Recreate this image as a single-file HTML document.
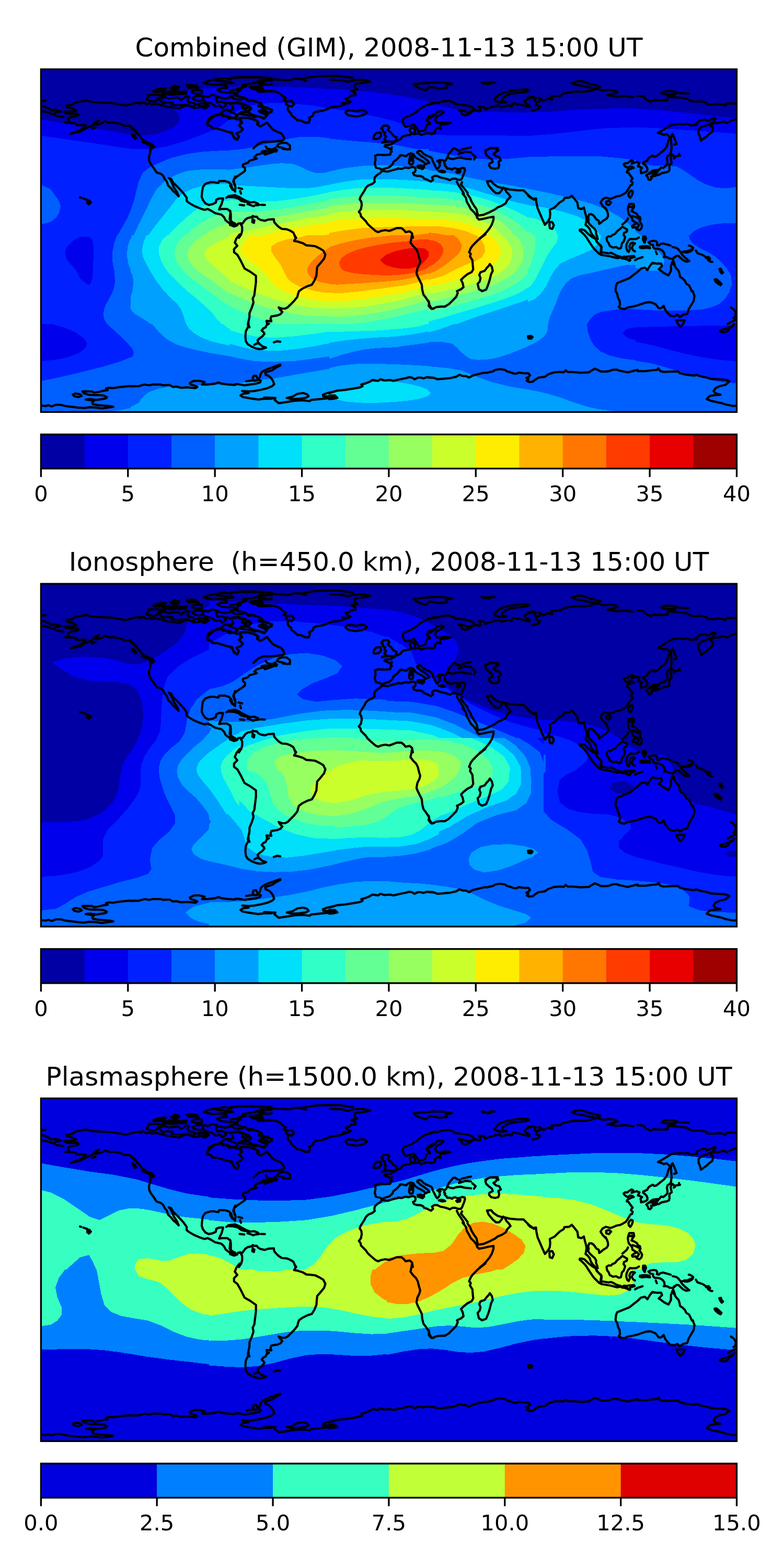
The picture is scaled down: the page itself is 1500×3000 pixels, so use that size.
<!DOCTYPE html>
<html lang="en">
<head>
<meta charset="utf-8">
<title>TEC maps 2008-11-13 15:00 UT</title>
<style>
html,body{margin:0;padding:0;background:#fff;}
body{width:1500px;height:3000px;overflow:hidden;}
svg{display:block;}
text{font-family:"DejaVu Sans","Liberation Sans",sans-serif;fill:#000;}
.title{font-size:50px;text-anchor:middle;white-space:pre;}
.tick{font-size:41.67px;text-anchor:middle;}
.coast{fill:none;stroke:#000;stroke-width:4.2;stroke-linejoin:round;stroke-linecap:round;}
.frame{fill:none;stroke:#000;stroke-width:3.33;stroke-linejoin:miter;}
.tk{stroke:#000;stroke-width:3.33;}
</style>
</head>
<body>
<svg width="1500" height="3000" viewBox="0 0 1500 3000">
<rect width="1500" height="3000" fill="#fff"/>
<defs>
<clipPath id="mapclip"><rect x="78.4" y="132.5" width="1331.1" height="655.8"/></clipPath>
<g id="coast"><path d="M78.3,193.3 87.6,192.7 M78.3,202 86.4,204.6 94.9,208.5 98.8,211.6 105,209.8 112.8,211.6 116.7,213.2 111.2,214.7 105.8,215 104.3,219.4 98.8,217.8 93.4,215.5 88,213.9 83.3,213.2 78.3,213.9 M107.4,221.7 114.3,222.8 121.3,223.7 M271.2,196.1 260,196.9 251,198.9 240.1,202 227.7,199.5 213.7,197.2 192,196.1 174.9,194.8 165.6,192.2 154.7,193.8 143.9,196.1 137.6,200.7 126.8,201.5 128.3,204.6 137.6,207 146.2,211.6 142.3,213.2 122.1,213.9 126.8,217 137.6,217.8 148.5,217.5 150.1,220.9 143.9,222.8 136.1,223.7 129.9,227.1 130.7,231 133,234.1 124.4,234.9 133,235.2 143.9,235.7 147,239.6 153.2,239.3 164,239.6 160.9,244.2 151.6,249.7 134.5,255.9 153.2,252 167.1,244.2 175.7,241.1 182.7,233.4 188.9,230.6 183.4,235.7 178,238 184.2,238.8 196.6,234.9 200.5,231.8 209.1,234.9 218.4,234.9 227.7,236.1 237,240.3 248.7,241.1 254.1,245.8 260,250.4 M175.7,246.1 182.7,244.2 M252.5,256.6 256,261.3 260,264.4 M269,198.4 274,195.4 280.1,199.5 285.1,197.4 290.2,200 298.3,198.4 310.4,201.5 320.5,204.5 330.6,205.5 342.7,207.5 350.7,203.5 358.8,201.5 366.9,204.5 370.9,206.5 381,205.5 387.1,204.5 392.1,207.5 400,202.5 M280.1,190.4 285.1,183.3 283.1,181.3 298.3,181.3 315.4,182.3 310.4,185.3 303.3,187.3 299.3,192.4 292.2,194.4 285.1,192.4Z M303.3,188.4 315.4,185.3 322.5,188.4 330.6,187.3 340.7,186.3 346.7,191.4 350.7,188.4 355.8,184.3 361.8,185.3 358.8,190.4 360.8,195.4 370.9,197.4 375,199.5 368.9,203.5 356.8,200.5 340.7,201.5 328.5,200.5 330.6,196.4 318.4,195.4 312.4,197.4 307.3,193.4Z M366.9,174.2 376,172.2 386.1,173.2 386.1,179.3 375,179.3 366.9,177.3Z M367.9,187.3 376,183.3 388.1,184.3 389.1,190.4 381,193.4 370.9,190.4Z M378,199.5 386.1,197.4 396.2,200.5 391.1,203.5 381,202.5 M409.2,152.3 420.3,150.7 430.4,149.2 441.5,151.7 446.5,148.4 460.7,147.4 475.8,147 490.9,147.4 506.1,148.4 520,149.7 M409.2,152.3 396.1,155.3 390,158.3 396.1,160.3 405.1,162.3 423.3,161.3 435.4,159.3 446.5,158.3 438.4,156.3 428.4,155.3 417.3,154.8 409.2,152.3 M520,154.3 509.1,154.3 499,152.8 490.9,157.3 480.8,159.8 463.7,162.3 470.7,165.4 460.7,167.9 452.6,170.4 460.7,172.9 454.6,175.5 454.6,179.5 446.5,177.5 435.4,177.5 423.3,176 415.2,171.4 425.3,168.4 434.4,168.4 433.4,164.4 423.3,161.8 M520,161.3 509.1,162.3 496,160.3 501,165.4 477.8,166.9 484.9,170.9 503,169.4 490.9,172.4 495,175.5 520,175 M413.2,189.6 417.3,185.6 430.4,188.6 442.5,185.6 448.5,189.6 460.7,190.6 468.7,187.6 475.8,193.6 482.9,192.6 495,195.7 501,199.7 494,202.7 504.1,204.7 511.1,205.7 520,210.8 M413.2,189.6 416.2,195.7 423.3,194.6 430.4,196.7 440.5,197.7 455.6,195.7 464.7,198.7 476.8,203.7 480.8,207.8 474.8,213.8 468.7,209.8 462.7,205.7 464.7,199.7 M390,183.5 398.1,185.6 405.1,181.5 415.2,183.5 413.2,189.6 M390,193.6 396.1,195.7 404.1,197.7 413.2,203.7 420.3,201.7 425.3,206.8 432.4,201.7 430.4,197.7 M390,207.8 396.1,205.7 399.1,201.7 393,197.7 M396.1,235 400.1,225.9 410.2,220.9 420.3,217.9 427.3,212.8 432.4,209.8 440.5,213.8 450.6,217.9 454.6,221.9 446.5,225.9 438.4,226.9 432.4,221.9 425.3,221.9 M456.6,217.9 462.7,213.8 475.8,214.8 480.8,218.9 490.9,221.9 506.1,225.9 511.1,220.9 501,215.8 495,212.8 501,209.8 509.1,211.8 514.1,215.8 520,213.8 M458.6,225.9 466.7,224.9 475.8,225.9 485.9,229 493,232 495,235 M452.1,226.4 454.6,228 M460.7,235 458.6,226.9 M444.5,203.7 446.5,208.8 440.5,210.8 432.4,209.8 M462.7,204.7 466.7,208.8 472.8,206.8 M250,242.7 256.2,248.9 262.4,255.1 267.1,259.8 271.7,266 281.1,272.2 291.9,276.8 295,281.5 288.8,284.6 287.3,290 M252.3,257.4 257,258.2 260.9,264.4 257.8,265.2Z M271.7,271.4 281.1,275.3 291.9,279.9 M428.6,211.6 420.8,219.4 411.5,220.9 403.7,227.1 397.5,233.4 396.7,239.6 403.7,241.1 406.8,245.8 414.6,245.8 425.5,248.9 434.8,252 444.1,253.5 445.7,259.8 450,264.4 M425.5,219.4 436.3,222.5 450,227.1 M499,154.9 522.3,151.8 553.4,153.4 564.2,150.3 575.1,151.1 595.3,147.2 610.8,145.6 640,145.2 M575.1,151.1 586,154.2 M632.5,152.6 640,152.6 M499,154.9 508.3,161.1 491.2,165 477.3,166.6 485,171.2 502.1,169.7 494.3,173.6 514.5,173.6 527,175.1 534.7,178.2 540.9,183.7 547.1,188.3 542.5,191.4 548.7,194.5 547.1,199.2 551.8,202.3 550.2,208.5 552.6,213.2 556.5,216.3 558,220.9 564.2,225.6 568.9,230.2 576.6,231 584.4,234.9 590.6,234.9 593,228.7 591.4,225.6 598.4,221.7 599.9,216.3 604.6,213.9 618.6,211.6 626.3,208.5 632.5,205.4 640,204.6 M547.1,194.5 558,193 562.7,199.2 558,203.9 551.8,202.3 M440,149.5 455.5,148.3 486.6,148 517.6,148.7 520.7,151.8 502.1,154.9 486.6,158.8 463.3,162.7 471.1,165 455.5,171.2 440,172.8 M497.5,156.5 508.3,161.6 M440,158.8 446.2,158.8 M440,183.7 449.3,182.1 458.6,185.2 468,186.8 475.7,192.2 481.9,191.4 491.2,194.5 499,197.6 502.1,201.5 494.3,203.1 502.1,205.4 509.9,207 520.7,210.1 516.1,215.5 511.4,217.8 508.3,213.2 499,211.6 497.5,214.7 506.8,217.8 509.9,222.5 505.2,227.1 494.3,222.5 486.6,224 478.8,220.9 468,219.4 458.6,217.8 466.4,214.7 475.7,213.2 478.8,208.5 474.2,203.9 466.4,200.7 455.5,196.9 446.2,197.6 440,199.2 M463.3,205.4 469.5,207.7 M450.9,227.1 454,228.7 M458.6,225.6 475.7,225.6 486.6,228.7 492.8,231.8 492,238 498.2,241.9 505.2,238 510.7,234.1 516.1,241.1 522.3,248.1 530.1,252 537.8,255.1 542.5,261.3 544,266.7 539.4,269.1 533.2,269.8 527,270.6 517.6,271.4 503.7,271.4 494.3,275.3 485,283.8 M458.6,225.6 463.3,234.9 457.1,239.6 464.8,247.3 460.2,252 452.4,255.1 457.1,261.3 454,267.5 447.8,264.4 444.7,256.6 440,253.5 M533.2,275.3 540.9,273 548.7,273.7 554.9,278.4 554.9,284.6 548.7,286.1 540.9,283 533.2,281.5 530.1,279.2Z M508.3,279.9 511.4,284.6 520.7,286.1 527,283 528.5,290 M500.6,290 508.3,288.5 M630,144.8 650.2,145.6 675,149.2 M631.6,152.6 653.3,153.4 665.7,156.5 676.6,153.4 692.1,152.6 706.1,154.5 707.6,156.5 692.1,158.8 679.7,160.4 678.1,166.6 683.6,171.2 671.9,173.6 679.7,177.5 680.5,182.1 671.9,182.9 667.3,186.8 661.1,188.3 665.7,193 671.1,194.5 667.3,197.6 654.8,196.9 661.1,199.2 650.2,203.1 639.3,204.6 630,206.2 M661.1,214.7 665.7,210.8 675,211.6 681.2,213.2 689,210.8 696.8,210.8 702.2,215.5 696.8,219.4 689,221.7 681.2,222.8 667.3,220.9 662.6,217.8Z M791.5,161.1 803.9,159.6 816.3,158.8 830,157.3 847.4,158 864.5,160.4 853.6,163.5 855.2,168.1 841.2,169.7 830,167.4 821,166.6 814.8,172.8 805.5,169.7 797.7,166.6Z M831.9,195.8 816.3,200.7 805.5,207 796.1,214.7 785.3,220.9 772.9,225.6 770.5,230.2 772.1,238 776,242.7 783.7,241.1 791.5,238 797.7,245.8 800.8,252 805.5,251.2 813.2,248.9 816.3,239.6 822.5,234.9 816.3,230.2 819.4,224 830,219.4 M783.7,248.9 785.3,245.8 791.5,244.2 794.6,250.4 791.5,256.6 786.8,255.1Z M791.5,256.6 800.8,255.1 805.5,258.2 816.3,255.1 830,255.4 M760.4,269.1 766.6,266 769.8,261.3 777.5,259 785.3,258.2 M729.4,245.8 734,240.3 741.8,240.3 744.9,244.2 741.8,248.9 748,253.5 752.7,259.8 758.9,262.9 757.3,269.1 752.7,271.4 744.9,270.6 737.1,271.4 730.9,273 738.7,269.1 735.6,266 738.7,261.3 735.6,258.2 737.1,253.5 732.5,252 732.5,247.3Z M715.4,259.8 720.1,254.3 727.8,253.5 729.4,259.8 724.7,265.2 718.5,266 714.6,265.2Z M758.9,269.1 752.7,273.7 746.5,276.8 737.1,277.6 735.6,279.9 743.4,283 748,286.1 749.6,290 M921.7,157.7 931.8,158.8 942.7,157.3 947.3,158 M924,159.6 938,160.7 M945.8,190.7 953.5,182.1 961.3,178.2 975.3,174.3 990.8,172 1007.9,171.2 1012.5,173.6 1006.3,175.9 990.8,177.5 975.3,179.8 967.5,183.7 961.3,188.3 959.8,193 969.1,195.3 956.6,196.1 947.3,193Z M820,200.7 829.3,197.6 840.2,196.1 844.8,193.8 858.8,193 868.1,196.1 871.2,199.2 882.1,200 893,201.5 902.3,204.6 907.7,209.3 903.9,213.2 899.2,217 891.4,220.9 883.7,218.6 882.1,213.2 877.5,210.1 885.2,211.6 894.5,214.7 907,211.6 914.7,211.6 917.8,213.2 919.4,208.5 916.3,203.9 925.6,204.6 928.7,209.3 933.4,207 944.2,203.9 955.1,201.5 958.2,204.6 967.5,203.1 975.3,201.5 978.4,203.9 981.5,197.6 990.8,199.2 1000.1,201.5 1011,204.6 1013.3,202.3 1006.3,197.6 1003.2,193.8 1011,188.3 1020,186.8 M1018.4,211.3 1020,211.9 M820,227.1 826.2,224 832.4,219.4 835.5,214.7 843.3,212.4 848.7,214.7 843.3,219.4 835.5,223.3 832.4,228.7 835.5,234.9 840.2,235.7 851.1,234.1 861.9,235.2 851.1,238 843.3,238 841.7,242.7 843.3,246.6 837.1,244.2 832.4,248.9 832.4,253.5 826.2,256.6 820,255.1 M820,235.7 822.8,237.2 M928.7,287.7 938,283.8 952,283.8 953.5,288.5 M1010,186.8 1019.3,185.2 1025.5,188.3 1022.4,192.2 1027.1,196.1 1033.3,193 1031.7,186.8 1039.5,193 1048.8,188.3 1056.6,190.7 1055,184.4 1072.1,183.7 1078.3,179 1090.7,176.7 1103.2,175.1 1115.6,175.9 1131.1,173.6 1142,169.7 1154.4,173.6 1165.3,172 1177.7,173.6 1181.6,176.7 1173,179.8 1162.2,182.1 1173,183.7 1179.3,185.2 1196.3,183.7 1211.9,186 M1093.9,158.8 1103.2,155.7 1112.5,154.9 1121.8,158 1129.6,161.1 1142,163.5 1148.2,165.8 1142,169.7 1131.1,168.1 1124.9,166.6 1115.6,164.3 1103.2,162.7 1093.9,158.8 M1010,173.3 1011.6,173.6 M1010,202.3 1013.1,204.6 M1027.1,196.1 1025.5,200.7 1033.3,203.9 1030.2,208.5 1019.3,211.6 M1220,183.7 1230.9,184.4 1235.5,189.9 1244.8,194.5 1249.5,191.4 1258.8,192.2 1268.1,192.2 1277.5,191.4 1277.5,185.2 1291.4,186 1313.2,188.3 1319.4,192.2 1327.1,194.5 1341.1,193.8 1350.4,196.1 1353.5,200 1364.4,200 1375.3,199.2 1383,200 1387.7,202.3 1390.8,197.6 1410.2,198.4 M1265.8,177.5 1272.8,174.3 1285.2,174.3 1296.1,176.7 1293,179.8 1279,180.6 1269.7,179.8Z M1300.7,178.2 1317.8,179 M1279,182.4 1289.9,183.7 M1275.9,279.9 1279,269.1 1282.1,262.9 1275.9,256.6 1269.7,258.2 1265,255.9 1258.8,254.3 1271.2,247.3 1285.2,238.8 1297.6,237.2 1310.1,238 1314.7,236.5 1320.9,239.6 1333.4,238.8 1331.8,235.7 1339.6,230.2 1348.9,228.7 1353.5,231.8 1359.8,228.7 1366,225.6 1369.1,227.1 1362.9,234.9 1352,239.6 1341.1,243.4 1336.5,248.9 1336.5,255.1 1339.6,262.9 1341.1,269.1 1347.3,264.4 1352,261.3 1356.6,256.6 1362.9,252 1364.4,244.2 1359.8,241.1 1364.4,235.7 1375.3,234.9 1384.6,232.6 1390.8,235.7 1398.6,231 1410.2,227.6 M1286.8,256.6 1289.9,262.9 1294.5,275.3 1289.9,276.8 M1285.2,284.6 1284.4,275.3 1283.7,266 1285.2,258.2 1286.8,256.6 M153.2,377.7 155,378.3 M159.4,379.7 163.3,381 167.1,382.5 M287.3,278.8 287.3,285 287.3,292.8 284.9,300.5 285.7,308.3 288.8,314.5 293.5,320.7 299.7,330 307.5,332.4 312.1,336.2 315.2,342.5 319.1,347.1 321.7,354.9 327.6,360.6 331.1,365.3 337,370.4 341.9,375.5 338.5,367.3 332.3,358 329.2,350.2 326.1,344 323,340.9 327.6,342.5 330.7,348.7 337,354.9 343.2,361.1 350.9,369.6 357.1,378.2 357.1,384.4 361.8,388.3 371.1,393.7 382,398.4 391.3,401.5 397.5,399.9 403.7,403 411.5,407.7 423.9,410.8 428.6,415.4 431.7,421.6 437.9,426.3 444.1,429.4 450,432.5 M450,366.5 444.1,359.5 442.5,353.3 437.9,348.7 430.1,346.3 419.3,346.3 417.7,350.2 409.9,348.7 402.2,348.7 392.9,351.8 388.2,358 386.6,367.3 385.9,376.6 388.2,382.8 392.9,389 399.1,392.1 406.8,390.6 413,387.5 413.8,382 419.3,379.7 427,379.7 423.9,390.6 420.8,396.8 419.3,400.7 425.5,399.9 434.8,399.9 441,404.6 440.2,412.3 439.4,420.1 444.1,424.8 450,427.9 M433.2,378.2 439.4,375.1 450,373.5 M450,337.8 447.2,344 448,350.2 450,354.9 M505.2,291.2 514.5,288.9 528.5,288.1 M540.9,285 554.9,285.8 M530.1,287.3 520.7,291.2 506.8,295.9 505.2,292 491.2,295.9 486.6,300.5 491.2,303.6 477.3,307.5 474.2,311.4 464.8,314.5 464.8,318.4 468.7,321.5 468.7,326.9 464.8,330 455.5,336.2 447.8,342.5 446.2,347.1 448.5,353.3 450.9,359.5 449.3,365 444.7,362.6 440,354.9 M456.3,359.5 463.3,361.4 M459.4,365.7 461,370.4 M473.4,390.6 477.3,387.5 486.6,386.7 492.8,389 495.9,392.1 488.1,392.9 485,394.5 478.8,392.1Z M458.6,391.8 467.2,392.9 M499.8,391.8 506.8,392.1 M440,403 441.6,409.2 441.6,421.6 440,426.3 M440,427.9 446.2,431 450.9,432.5 455.5,427.9 460.2,427.1 463.3,428.6 469.5,420.1 474.2,417 481.9,415.4 483.5,413.1 486.6,414.7 491.2,414.7 494.3,418.5 499,420.9 506.8,422.4 513,420.1 523.9,419.3 524.6,424.8 528.5,429.4 533.2,434.1 539.4,438 548.7,438.7 554.9,441.1 561.1,444.9 564.2,451.1 566.6,455 M483.5,418.5 482.7,424.8 485.8,426.3 486.6,421.6 M460.2,427.9 463.3,434.1 463.3,441.8 461.7,448 457.1,455 M440,430.2 447.8,433.3 454,431 M749.6,281.9 748,289.7 746.5,295.9 735.6,296.6 723.2,295.9 717.7,298.2 718.5,305.2 717,313 719.3,320.7 726.3,322.3 730.9,324.6 737.1,322.3 744.9,319.9 751.1,314.5 752.7,309.8 758.9,305.2 763.5,300.5 766.6,297.4 M730.9,326.9 741.8,328.5 751.1,325.4 762,323 M730.9,326.9 727.8,330.8 721.6,334.7 717,339.3 716.2,344.8 717,347.9 712.3,351.8 704.5,354.9 699.9,359.5 696.8,365.7 693.7,370.4 689.8,376.6 688.2,381.3 691.3,385.9 692.1,392.1 690.6,399.9 686.7,405.3 689.8,409.2 690.6,413.9 695.2,418.5 699.9,423.2 703,427.9 707.6,432.5 713.9,438 718.5,441.8 723.2,444.2 729.4,441.8 737.1,440.3 744.9,441.8 751.1,439.5 758.9,436.4 768.2,436.4 772.9,440.3 776,444.2 783.7,442.6 788.4,446.5 789.9,455 M907,305.2 910.1,300.5 903.9,295.1 M885.2,370.4 891.4,378.2 893,385.9 897.6,393.7 900.7,399.9 907,406.1 911.6,412.3 913.2,417 916.3,420.1 M894.5,372 899.2,378.2 902.3,385.9 907,393.7 911.6,399.9 913.2,407.7 914.7,412.3 M914.7,412.3 925.6,410.8 936.5,406.1 947.3,400.7 952,396.8 959.8,393.7 967.5,389 970.6,382.8 976.8,376.6 973.7,372 969.1,367.3 966,361.1 962.9,358.8 959.8,364.2 955.1,369.6 948.9,369.6 942.7,364.2 934.9,354.9 931.8,347.1 939.6,346.3 944.2,351.8 952,357.2 959.8,359.5 966,360.3 975.3,362.6 990.8,364.2 1001.7,364.2 1006.3,368.9 1012.5,375.1 1021.9,382 M941.9,363.4 944.2,365.7 M916.3,420.1 925.6,418.5 934.9,416.2 944.2,414.7 944.2,420.1 941.1,429.4 936.5,437.2 930.2,444.9 924,451.1 917.8,455.8 M928.7,291.2 931.8,286.6 938,283.4 952,283.4 948.9,291.2 944.2,294.3 948.9,299 955.1,300.5 958.2,306.7 953.5,309.8 955.1,316.1 953.5,321.5 947.3,323 939.6,321.5 935.7,316.8 936.5,313 942.7,309.8 941.1,305.2 934.9,300.5 930.2,295.9Z M1010,373.5 1014.7,378.2 1019.3,380.5 1025.5,379.7 1026.3,387.5 1028.6,398.4 1033.3,409.2 1038,420.1 1042.6,430.2 1048.8,423.2 1051.9,417 1052.7,409.2 1051.9,401.5 1061.2,396.8 1070.6,387.5 1078.3,382.8 1079.9,378.9 1089.2,378.2 1093.9,374.3 1098.5,379.7 1104.7,387.5 1106.3,398.4 1112.5,399.9 1117.1,396.8 M1051.9,424.8 1056.6,424.8 1059.7,431 1056.6,438 1051.9,436.4 1051.1,429.4Z M1159.1,399.9 1152.9,393.7 1149,387.5 1152.9,381.3 1159.1,378.2 1165.3,379.7 M1159.8,385.9 1165.3,384.4 1169.2,387.5 1165.3,392.1 1159.8,390.6Z M1299.2,294.3 1299.2,298.2 M458.6,448.4 452.4,456.2 449.3,464 454,470.2 447.8,476.4 447.8,482.6 454,487.3 460.2,498.1 466.4,510.6 468,513.7 478.8,519.9 489.7,527.6 489.7,540.1 488.1,552.5 486.6,564.9 483.5,571.1 485,578.9 481.9,588.2 477.3,599.1 477.3,606.8 474.2,620.8 M562.7,448.4 565.8,456.2 562.7,460.9 570.4,462.4 579.8,465.5 586,469.4 595.3,470.2 603,471 610.8,474.8 618.6,479.5 622.5,487.3 620.1,495 612.4,504.3 606.9,510.6 606.1,518.3 605.4,527.6 601.5,537 596.8,544.7 587.5,547.8 578.2,552.5 572,557.1 570.4,561.8 568.9,568 562.7,575.8 556.5,582 550.2,588.2 545.6,590.5 539.4,590.5 533.2,588.2 536.3,592.9 540.2,596.7 536.3,601.4 530.1,603.7 519.2,605.3 517.6,609.9 519.2,614.6 509.9,613.8 511.4,620.8 M788.4,448.4 786.8,457.8 785.3,464 789.9,470.2 796.1,476.4 799.3,482.6 801.6,491.9 803.9,499.7 802.4,505.9 798.5,513.7 796.9,523 799.3,529.2 802.4,535.4 807,544.7 807.8,554 810.1,563.4 814.8,569.6 821,578.9 820.2,585.1 824.1,589.8 830,590.5 M820,575.8 821.6,583.5 826.2,591.3 835.5,587.4 843.3,586.6 851.1,586.6 858.8,582 866.6,574.2 872.8,568 875.9,560.2 874.3,557.1 882.1,553.3 886.8,549.4 885.2,541.6 882.1,535.4 886.8,530.7 894.5,524.5 902.3,520.7 905.4,515.2 904.6,507.5 903.9,498.1 899.2,490.4 900.7,485.7 897.6,482.6 900.7,474.8 903.9,470.2 908.5,465.5 914.7,459.3 922.5,453.1 928.7,448.4 M937.2,505.1 941.1,510.6 942.7,518.3 939.6,524.5 936.5,537 933.4,546.3 930.2,554 922.5,557.1 916.3,553.3 913.9,543.2 917.8,538.5 919.4,532.3 917,526.1 919.4,520.7 927.1,518.3 931.8,512.1 934.9,509Z M1185.5,492.7 1187,491.1 M1190.1,492.7 1197.9,491.9 M1199.4,495 1205.7,498.1 M1219.9,519.9 1210,527.6 1204.1,532.3 1196.3,535.4 1188.6,538.5 1180.8,541.6 1178.5,547.8 1177.7,557.1 1180.8,561.8 1182.4,569.6 1185.5,575.8 1186.2,583.5 1183.9,587.4 1188.6,590.5 1194.8,591.3 1201,588.2 1211.9,586.3 1219.9,584.3 M1220,495 1229.3,491.9 M1289.9,491.9 1288.3,495 1282.1,495 1275.9,491.9 1269.7,491.9 M1220,519.9 1226.2,513.7 1234,512.1 1238.6,516.8 1243.3,509 1248,502.8 1255.7,504.3 1265,504.3 1266.6,509 1260.4,515.2 1265,518.3 1271.2,523 1279,526.9 1283.7,518.3 1283.7,509 1286.8,500.5 1289.9,507.5 M1325.6,557.1 1328.7,566.5 1327.1,575.8 1322.5,583.5 1317.8,591.3 1314.7,600.6 1307,602.2 1300.7,606.8 1296.1,602.2 1289.9,605.3 1282.1,603.7 1277.5,599.1 1272.8,592.9 1269.7,585.1 1265,589.8 1260.4,589.8 1254.2,582 1244.8,578.1 1235.5,578.9 1226.2,582 1220,584.3 M1294.1,613 1310.1,613 1307,620 1302,625 1297,620Z M1398.6,588.2 1404.8,592.9 1407.9,599.1 1406.3,606.8 1403.2,608.4 M1407.9,611.5 1398.6,616.1 1392.4,620 M75.5,776.1 80.2,776.1 88,776.8 92.6,775.3 98.8,777.6 106.6,774.5 115.9,774.5 125.2,776.8 137.6,778.4 150.1,779.9 160.9,780.7 171.8,779.2 184.2,779.9 195.1,781.5 206,779.9 216.8,778.4 209.1,776.8 199.8,776.1 188.9,775.3 178,773.7 176.5,770.6 179.6,767.5 174.9,766 164,764.4 171.8,763.6 184.2,765.2 195.1,763.6 202.9,762.1 204.4,759.8 198.2,756.6 187.3,755.9 176.5,755.9 168.7,755.1 160.9,752.8 157.8,748.9 165.6,748.9 176.5,748.9 179.6,751.2 188.9,749.7 199.8,747.3 206,746.6 202.9,743.4 209.1,741.9 215.3,742.7 230.8,740.3 246.3,738.8 260,738.8 M139.2,755.1 143.9,752.8 153.2,754.3 156.3,757.4 150.1,759.8 142.3,758.2Z M250,739.3 265.5,738.8 276.4,735.7 285.7,737.2 291.9,735.7 307.5,735.7 312.1,737.2 324.5,736.5 330.7,740.3 337,739.6 346.3,741.9 358.7,741.1 374.2,742.7 377.3,740.3 372.7,738 364.9,735.7 363.4,732.6 371.1,728.7 382,728.7 391.3,731 386.6,735.7 397.5,735.7 411.5,734.1 417.7,731.8 423.9,734.1 436.3,735.7 450,736.5 M475.7,618.4 474.2,626.2 470.3,634 469.5,643.3 470.3,652.6 474.2,658.8 481.9,663.5 489.7,666.6 497.5,668.1 505.2,666.6 509.1,665 502.1,662.7 497.5,658.8 494.3,655.7 492.8,651.1 495.9,648 502.1,643.3 506,638.6 503.7,634.8 500.6,632.4 503.7,628.5 508.3,626.2 509.9,622.3 514.5,619.2 M486.6,659.6 492.8,656.5 497.5,658.8 M474.9,620 477.3,626.2 M523.9,654.9 530.1,652.9 536.3,653.9 M536.3,697.6 527,700.7 517.6,703.9 509.9,707 502.1,710.8 499,714.7 497.5,720.9 494.3,725.6 499,728.7 497.5,731.8 489.7,734.1 478.8,735.7 468,737.2 460.2,735.7 452.4,734.9 446.2,736.5 440,735.7 M536.3,699.2 528.5,703.1 520.7,708.5 513,710.8 507.5,713.2 508.3,717 514.5,719.4 519.2,724 522.3,728.7 524.6,734.9 520.7,738.8 511.4,742.7 499,745.8 486.6,748.1 474.2,748.9 463.3,748.1 475.7,752 464.8,753.5 460.2,756.6 464.8,759.8 478.8,762.1 494.3,764.4 505.2,762.9 517.6,762.9 527,761.3 525.4,765.2 533.2,771.4 548.7,769.1 564.2,766.7 579.8,766 592.2,767.5 595.3,765.2 610.8,763.6 626.3,762.1 640,760.5 M485,719.4 489.7,718.6 494.3,727.1 486.6,728.7 483.5,724Z M471.1,729.5 483.5,727.9 M505.2,760.5 523.9,761.3 M548.7,761.3 559.6,759 568.9,753.5 579.8,752 587.5,754.3 590.6,758.2 584.4,761.3 572,762.9 558,763.6Z M640,748.9 626.3,752 617.8,755.1 618.6,758.2 640,759 M630,752 637.8,749.7 645.5,747.3 661.1,745.8 676.6,743.4 689,741.1 693.7,738.8 691.3,735.7 699.9,733.4 707.6,730.2 712.3,727.1 718.5,727.9 723.2,728.7 727.8,725.6 735.6,727.9 746.5,727.1 752.7,728.7 762,726.4 777.5,723.3 782.2,721.7 788.4,722.5 793,725.6 799.3,722.5 805.5,722.5 810.1,724 816.3,721.7 830,722.5 M630,756.6 640.9,756.6 645.5,761.3 637.8,762.9 630,763.6 M820,722.5 829.3,722.8 837.1,725.6 851.1,724.3 861.9,723.3 872.8,720.9 879,717 885.2,719.4 891.4,719.4 897.6,722.5 903.9,718.6 913.2,716.3 925.6,713.2 931.8,713.2 938,711.6 942.7,710.8 947.3,707.7 956.6,706.2 966,707.7 970.6,710.8 976.8,712.4 983,714.7 987.7,715 992.4,712.9 1000.1,713.9 1011,714.4 1014.1,717.8 1011.8,720.9 1007.1,723.3 1011,725.6 1007.9,728.7 1012.5,731 1020,730.2 M1019.3,730.2 1024,726.4 1030.2,722.5 1042.6,720.9 1048.8,716.3 1059.7,712.4 1072.1,711.6 1078.3,712.4 1082.2,708.5 1086.1,711.6 1097,711.9 1110.9,713.2 1126.5,712.4 1132.7,708.5 1138.1,705.4 1143.5,707.7 1149.8,710.8 1159.1,710.8 1165.3,710.1 1171.5,707.7 1179.3,707 1185.5,709.3 1193.2,710.8 1201,712.4 1210,710.1 1219.9,707.7 M1220,710.1 1235.5,710.1 1246.4,708.5 1257.3,707.7 1259.6,704.6 1263.5,710.1 1269.7,711.6 1285.2,710.8 1297.6,710.8 1300.7,713.9 1310.1,716.3 1320.9,717.8 1328.7,718.6 1331.8,717 1341.1,720.2 1350.4,721.7 1359.8,724.8 1372.2,725.6 1384.6,726.4 1392.4,727.9 1395.5,730.2 1387.7,736.5 1376.8,738.8 1369.1,742.7 1365.2,748.1 1369.1,752.8 1378.4,755.1 1369.1,755.9 1358.2,757.4 1352,763.6 1359.8,766.7 1370.6,769.1 1381.5,771.4 1387.7,773.7 1395.5,775.3 1401.7,776.8 1410.2,776.1 M1404.8,620 1398.6,624.7 1390.8,628.5 1381.5,630.9 1376.8,633.2 1381.5,635.5 1387.7,635.5 1392.4,633.2 1395.5,627.8 1401.7,624.7Z M1204.2,390.1 1212.3,390.1 1213.3,396.1 1210.3,400.2 1208.3,404.2 1213.3,406.2 1218.4,409.3 1220.4,413.3 1224.4,415.3 1225.4,420.4 1223.4,423.4 1226.4,427.4 1228.4,431.5 1227.4,436.5 1223.4,440.6 1218.4,438.5 1216.3,434.5 1210.3,435.5 1209.3,432.5 1213.3,429.5 1217.3,427.4 1214.3,424.4 1210.3,422.4 1209.3,417.3 1206.2,413.3 1203.2,410.3 1202.2,406.2 1201.2,400.2 1202.2,395.1Z M1210.3,413.3 1216.3,415.3 1222.4,418.4 M1218.4,426.4 1222.4,430.5 1220.4,434.5 M1205.2,396.1 1209.3,395.1 1210.3,399.2 M1222.4,454.2 1217.3,457.2 1210.3,457.7 1205.2,457.2 1201.7,460.7 1198.7,467.8 1198.2,473.9 1200.2,479.9 1202.7,481.9 1205.2,476.9 1204.2,470.8 1206.7,465.8 1210.3,464.3 1214.8,465.8 1211.3,468.8 1208.8,473.9 1211.3,478.9 1214.8,480.9 M1271.8,491 1270.8,484 1267.8,479.9 1262.8,476.9 1257.7,475.9 1252.7,475.9 1249.6,472.9 1249.6,468.8 1244.6,467.8 1240.6,463.8 1244.6,461.8 1250.7,460.7 1255.7,461.8 1257.7,465.8 1256.7,468.8 1260.7,469.8 1263.8,466.8 1268.8,465.8 1275.9,467.8 1283,469.8 M1254.7,480.9 1256.7,486 M1168,380.4 1170,379.9 1175,377.9 1180.1,375.8 1186.1,374.8 1192.2,371.8 1197.3,368.8 1200.3,364.7 1203.3,359.7 1206.3,354.6 1209.4,353.6 1210.4,349.6 1207.3,346.6 1208.4,343.5 1210.4,341.5 1207.3,337.5 1204.3,333.4 1202.3,330.4 1199.3,329.4 1200.3,326.4 1204.3,324.4 1208.4,322.3 1212.4,321.3 1210.4,319.3 1205.3,318.3 1201.3,321.3 1197.3,319.3 1194.2,316.3 1193.2,314.3 1196.2,312.3 1200.3,312.3 1204.3,309.2 1208.4,306.7 1211.4,308.2 1208.4,313.3 1213.4,311.2 1218.4,310.2 1223.5,312.3 1221.5,316.3 1220.5,318.3 1224.5,319.3 1228.5,321.3 1225.5,324.4 1226.5,328.4 1226.5,331.4 1230.6,330.4 1235.6,328.9 1238.6,326.4 1238.6,322.3 1236.6,318.3 1233.6,315.3 1230.6,313.3 1230.6,310.7 1234.6,309.2 1238.6,307.2 1239.6,304.2 1242.7,301.1 1248.7,297.6 1251.8,300.1 1255.8,299.1 1260.8,295.1 1265.9,291.1 1270.9,287 1274,283 M1236.6,335.5 1240.7,332.4 1244.7,329.4 1248.7,326.4 1255.8,325.4 1260.8,325.4 1264.9,320.3 1268.9,321.3 1273,318.3 1277,314.3 1277,309.2 1276,304.2 1277,299.1 1280,297.1 1283,295.1 1284.1,290 1284.6,283 M1236.6,335.5 1239.6,339.5 1240.7,343.5 1243.7,344.5 1246.7,341.5 1245.7,337.5 1250.7,337.5 1255.8,335.5 1260.8,334.5 1265.9,331.4 1270.9,330.4 1276,329.4 1280,327.4 1281,323.4 1280.5,318.3 1282,314.3 1285.1,312.3 1284.1,307.2 1283,302.2 1285.1,298.1 1285.1,295.1 1289.1,298.1 1291.1,302.2 1289.1,303.2 1293.1,299.1 1301.2,297.9 M1242.7,332.4 1250.7,329.4 1258.8,328.4 M1248.7,333.4 1256.8,332.4 M1207.3,364.7 1210.4,365.7 1210.4,369.8 1208.4,374.8 1205.8,378.4 1203.3,375.8 1202.3,371.8 1204.3,367.8Z M1117.3,398 1119.3,406.1 1121.3,413.1 1122.3,419.2 1121.3,425.2 1120.3,430.3 1124.3,433.3 1128.4,438.4 1130.4,444.4 1133.4,449.5 1137.4,453.5 1140.5,457.5 1141.5,461.6 1144.5,465.6 1148.5,469.6 1150.6,472.7 1149.5,478.7 1149,483.8 M1127.3,410.1 1125.3,415.1 1126.3,420.2 1125.3,425.2 1128.4,429.3 1132.4,433.3 1137.4,437.3 1140.5,442.4 1140.5,447.4 1142.5,452.5 1143.5,457.5 M1127.3,410.1 1131.4,409.6 1135.4,412.1 1138.4,416.1 1141.5,420.2 1145.5,422.2 1146.5,428.3 1150.6,425.2 1155.6,421.2 1160.7,418.2 1163.2,414.1 1163.2,409.1 1161.7,404 1158.6,398 M1109.2,439.4 1113.2,438.9 1118.3,440.4 1122.3,444.4 1126.3,448.4 1130.4,451.5 1134.4,454.5 1139.5,457.5 1141.5,462.6 1145.5,466.6 1149.5,469.6 1151.1,472.7 1150.6,478.7 1149.5,483.8 1146.5,485.8 1142.5,481.8 1137.4,476.7 1133.4,471.7 1129.4,465.6 1125.3,459.5 1122.3,454.5 1118.3,449.5 1113.2,444.4 1109.2,441.4Z M1147.5,485.8 1152.6,482.8 1158.6,483.8 1164.7,484.8 1168.7,483.8 1173.8,485.8 1178.8,488.8 1184.9,490.8 1186.9,492.9 1180.8,493.9 1174.8,492.4 1168.7,490.8 1162.7,489.8 1156.6,488.8 1150.6,487.8Z M1189.9,492.9 1194,490.8 1199,491.3 1205.1,490.3 1213.1,489.8 1214.1,491.8 1206.1,493.9 1204.1,498.9 1200,496.9 1195,494.9 1189.9,494.4Z M1215.2,497.9 1220,494.9 M1160.7,454.5 1164.7,452 1168.7,452.5 1171.8,449.5 1176.8,447.4 1180.8,442.4 1185.9,438.4 1190.9,433.8 1195,436.3 1200,439.4 1199,443.4 1194,445.4 1193,449.5 1196,453.5 1195,457.5 1193,462.6 1189.9,465.6 1188.9,470.7 1187.9,474.7 1183.9,475.7 1178.8,472.7 1172.8,473.7 1166.7,470.7 1164.7,465.6 1161.7,461.6 1160.7,457.5Z M1190.9,429.3 1196,425.2 1200,421.2 1201.5,417.7 M765,297.5 768,296.8 770,297.3 777.1,298.9 781.1,295.3 786.1,293.3 791.2,295.3 794.2,300.4 800.3,304.4 806.3,307.4 811.4,310.5 813.4,314.5 810.4,317.5 M785.1,298.4 789.2,298.9 790.2,303.4 790.7,309.5 789.2,314.5 785.1,315 782.6,311.5 783.1,305.4 784.1,301.4Z M813.4,314.5 817.4,312.5 821.5,311.5 818.4,307.4 814.4,304.4 810.4,301.4 805.3,298.4 801.3,294.3 798.3,292.3 798.3,290.3 802.3,288.3 806.3,289.8 810.4,294.3 815.4,297.3 820.5,299.4 825,301.4 827,304.4 828,308.4 830.6,313.5 832.6,317.5 834.6,321.6 836.6,323.6 839.6,320.6 841.7,316.5 840.7,312.5 842.7,310.5 838.6,309.5 836.6,308.4 840.7,306.4 846.7,306.4 850.7,308.4 849.7,312.5 851.8,314.5 850.7,316.5 853.8,319.5 855.8,322.6 860.8,322.6 864.9,324.6 866.9,322.6 870.9,321.6 875,323.6 881,322.6 884.1,321.1 889.1,322.1 889.6,325.6 888.1,330.7 886.1,335.7 884.1,340.7 882,343.8 M850.7,308.4 853.8,305.4 855.8,301.4 858.8,294.3 862.9,289.3 866.9,284.7 870.9,284.2 875,287.3 879,288.3 881,291.3 878,294.3 882,293.3 891.1,290.3 901.2,291.5 M883,286.2 891.1,284.2 901.2,282 M855.8,301.4 860.8,303.4 866.9,304.4 873,302.4 881,301.4 889.1,303.4 901.2,304.6 M760.9,322.1 768,323.1 770,322.6 776.1,320.6 782.1,321.6 788.2,319.5 794.2,320.6 795.2,324.6 794.2,328.6 790.2,330.7 792.2,334.7 798.3,336.7 804.3,336.7 809.4,338.7 811.4,341.8 817.4,343.8 824.5,347.3 828.5,343.8 826.5,339.7 830.6,336.7 836.6,336.7 842.7,339.7 848.7,340.7 855.8,342.8 860.8,344.8 865.9,341.8 870.9,341.8 876,343.8 882,343.8 M874,347.8 877,353.9 881,359.9 885.1,366 887.6,371 M884.1,348.8 882,352.9 885.1,356.9 890.1,363 894.7,369 M1287,472.8 1290,473.3 1294,474.3 1298.1,477.3 1301.1,481.4 1305.1,482.9 1309.2,480.9 1314.2,480.9 1319.3,478.9 1323.3,477.3 1326.3,474.8 1324.3,472.3 1320.3,470.3 1317.8,469.8 M1310.2,482.9 1316.2,482.9 1321.3,480.9 1325.3,477.8 M1287,495 1290,493.5 1294,489.5 1298.1,489.5 1302.1,493.5 1307.2,498 1313.2,500.6 1318.8,499.5 1315.2,496.5 1310.2,492.5 1306.1,488.4 1303.1,484.4 M1331.4,479.4 1334.4,484.4 1340.5,486.4 1345.5,488.4 1351.6,492.5 1355.6,491.5 1358.6,495.5 1354.6,497.5 1359.6,500.6 1362.7,501.1 M1350.6,493.5 1355.6,495 M1288,498.5 1290,503.6 1292,510.7 1295,514.7 1298.1,517.7 1300.1,523.8 1301.1,529.8 1306.1,532.9 1310.2,536.9 1313.2,543 1318.3,546 1320.8,551 1323.8,557.6"/><path style="fill:#000" d="M293.2,174.2 303.3,170.2 317.4,169.2 312.4,175.2 295.2,176.2Z M311.4,177.3 322.5,175.2 335.6,174.2 346.7,176.2 356.8,175.2 355.8,179.3 340.7,180.3 326.5,181.3 313.4,179.3Z M326.5,168.2 334.6,164.1 342.7,166.1 340.7,170.2 330.6,170.2Z M356.8,163.1 366.9,162.6 376,164.1 380,168.2 360.8,167.7Z M167.1,384.7 171,383.9 173.8,387.5 170.2,391.1 167.1,388.7Z M436.9,375.1 449.3,373.5 457.1,376.6 463.3,380.5 471.1,384.4 477.3,386.7 468,385.9 461.7,384.4 455.5,379.7 447.8,377.4 436.9,376.9Z M1010.2,643.3 1015.7,642.5 1018.8,644.8 1016.4,648 1011,647.6Z M1230.5,452.7 1234.5,452.7 1236,456.7 1234.5,460.7 1233.5,464.8 1231.5,461.8 1230,457.7Z M1224.4,471.8 1230.5,470.8 1236.5,470.8 1242.6,471.8 1243.6,474.9 1236.5,473.9 1228.4,474.9 1224.4,473.9Z M798.8,317.5 804.3,316.5 810.4,317.5 811.4,320.6 808.4,323.6 803.3,321.6 799.3,320.6Z M785.1,300.4 788.7,300.4 789.2,306.4 786.1,307.4 784.6,304.4Z M839.6,327.6 844.7,326.6 849.7,327.6 851.8,329.1 845.7,329.6Z M873,328.6 877,326.6 881,326.6 880,329.6 875,330.7Z M1376.3,514.7 1379.3,514.2 1380.8,518.7 1383.4,521.2 1380.8,523.3 1378.3,519.7Z M1367.2,534.9 1370.7,534.4 1375.8,538.4 1380.3,543 1378.8,545.5 1373.8,543 1368.7,538.4Z"/></g>
</defs>
<g transform="translate(0,0)">
<text class="title" x="744" y="107.5">Combined (GIM), 2008-11-13 15:00 UT</text>
<g clip-path="url(#mapclip)">
<g shape-rendering="crispEdges">
<rect x="0" y="0" width="1500" height="900" fill="#0000a4"/>
<svg x="60" y="120" width="200" height="170" viewBox="60 120 200 170">
<rect x="59" y="119" width="203" height="173" fill="#0000a4"/>
<path fill="#0000ed" d="M75.5,227.9 79.9,228.7 125.2,236.1 168.7,243.4 215.3,251.5 261.9,259.3 261.9,306.3 75.5,306.3Z"/>
<path fill="#0020ff" d="M75.5,259 79.9,259.8 122.1,266 168.7,272.5 215.3,279.6 261.9,286.5 261.9,306.3 75.5,306.3Z"/>
</svg>
<svg x="250" y="120" width="200" height="170" viewBox="250 120 200 170">
<rect x="249" y="119" width="203" height="173" fill="#0000a4"/>
<path fill="#0000ed" d="M451.9,166.6 420.8,167.4 389.8,169.4 360.9,172.6 330.6,178.2 317.4,183.4 315.4,192.4 326.6,200.4 332.6,208.5 340.7,215.7 343.6,225.7 340.7,235.8 330.6,243.9 315.4,250.9 300.3,256 278,258.7 259.9,258.7 248.4,258.2 248.4,306.3 451.9,306.3Z"/>
<path fill="#0020ff" d="M248.4,286.1 259.9,286.5 288.8,285.8 319.9,279.9 350.9,270.9 389.8,256.6 420.8,242.7 436.3,230.6 451.9,219.4 451.9,306.3 248.4,306.3Z"/>
<path fill="#0060ff" d="M411.5,290.8 430.1,288.5 451.9,286.5 451.9,306.3Z"/>
</svg>
<svg x="440" y="120" width="200" height="170" viewBox="440 120 200 170">
<rect x="439" y="119" width="203" height="173" fill="#0000a4"/>
<path fill="#0000ed" d="M438.4,166.6 502.1,165 548.7,166.1 595.3,168.1 641.9,170.8 641.9,306.3 438.4,306.3Z"/>
<path fill="#0020ff" d="M438.4,221.7 455.5,211.6 478.8,202.3 502.1,198.1 525.4,196.9 548.7,197.2 595.3,201.5 641.9,209.6 641.9,306.3 438.4,306.3Z"/>
<path fill="#0060ff" d="M438.4,289.3 486.6,281.5 533.2,268.3 572,262.4 603,261.6 641.9,265.3 641.9,306.3 438.4,306.3Z"/>
</svg>
<svg x="630" y="120" width="200" height="170" viewBox="630 120 200 170">
<rect x="629" y="119" width="203" height="173" fill="#0000a4"/>
<path fill="#0000ed" d="M628.4,169.4 676.6,172.8 723.2,177.5 769.8,183.7 800.8,189.9 831.9,196.4 831.9,306.3 628.4,306.3Z"/>
<path fill="#0020ff" d="M628.4,207.4 661.1,211.6 692.1,217.8 723.2,224 754.2,231.8 769.8,237.2 785.3,242.7 800.8,249.7 820.1,256.6 831.9,257.9 831.9,306.3 628.4,306.3Z"/>
<path fill="#0060ff" d="M628.4,265.2 676.6,269.8 723.2,273.7 754.2,276.8 785.3,283 808.6,287.7 831.9,290.5 831.9,306.3 628.4,306.3Z"/>
</svg>
<svg x="820" y="120" width="200" height="170" viewBox="820 120 200 170">
<rect x="819" y="119" width="203" height="173" fill="#0000a4"/>
<path fill="#0000ed" d="M818.4,196.9 835.5,200.7 851.1,204.6 882.1,210.4 913.2,213.5 944.2,214.3 975.3,215 1021.9,215.8 1021.9,306.3 818.4,306.3Z"/>
<path fill="#0020ff" d="M818.4,257.4 866.6,259 913.2,258.7 959.8,259.3 1021.9,260.5 1021.9,306.3 818.4,306.3Z"/>
<path fill="#0060ff" d="M818.4,287.7 823.1,290.8 818.4,290.8Z"/>
</svg>
<svg x="1010" y="120" width="206" height="170" viewBox="1010 120 206 170">
<rect x="1009" y="119" width="209" height="173" fill="#0000a4"/>
<path fill="#0000ed" d="M1008.4,215.5 1056.6,213.2 1103.2,209.8 1149.8,207.7 1218.1,207 1218.1,306.3 1008.4,306.3Z"/>
<path fill="#0020ff" d="M1008.4,260.2 1056.6,256.6 1103.2,251.2 1149.8,245.8 1218.1,243.4 1218.1,306.3 1008.4,306.3Z"/>
</svg>
<svg x="1216" y="120" width="204" height="170" viewBox="1216 120 204 170">
<rect x="1215" y="119" width="207" height="173" fill="#0000a4"/>
<path fill="#0000ed" d="M1213.8,207.7 1266.6,210.8 1313.2,215.5 1359.8,220.9 1411,226.7 1411,306.3 1213.8,306.3Z"/>
<path fill="#0020ff" d="M1213.8,243.4 1266.6,245.8 1313.2,248.9 1359.8,252 1411,256.2 1411,306.3 1213.8,306.3Z"/>
</svg>
<svg x="60" y="285" width="200" height="170" viewBox="60 285 200 170">
<rect x="59" y="284" width="203" height="173" fill="#0020ff"/>
<path fill="#0060ff" d="M75.5,353.3 80.2,354.1 96.5,361.9 105,373.5 112.8,384.4 115.9,394.5 113.6,406.1 108.1,415.4 98,424 84.8,427.9 75.5,428.6Z"/>
<path fill="#0060ff" d="M221.5,455.8 232.4,437.2 243.2,418.5 251,399.9 257.2,382.8 261.9,373.5 261.9,455.8Z"/>
<path fill="#00a0ff" d="M249.4,455.8 255.7,446.5 261.9,436.4 261.9,455.8Z"/>
<path fill="#0000ed" d="M149.3,455.8 153.2,453.2 168.7,453.2 172.6,455.8Z"/>
</svg>
<svg x="250" y="285" width="200" height="170" viewBox="250 285 200 170">
<rect x="249" y="284" width="203" height="173" fill="#0020ff"/>
<path fill="#0060ff" d="M248.4,407.7 256.2,384.4 260.9,365.7 265.5,347.1 273.3,330 285.7,320.7 301.2,313 327.6,302.1 358.7,294.3 389.8,290.1 420.8,288.4 451.9,288.4 451.9,471.3 248.4,471.3Z"/>
<path fill="#00a0ff" d="M251.6,457.4 264,432.5 276.4,407.7 288.8,381.3 298.1,364.2 310.6,350.2 323,341.7 340.1,333.1 358.7,326.9 389.8,323.8 420.8,323.8 451.9,325.4 451.9,471.3 251.6,471.3Z"/>
<path fill="#00e0fb" d="M278,457.4 296.6,432.5 315.2,409.2 327.6,393.7 337,381.3 350.9,368.9 368,361.1 389.8,354.9 420.8,351.8 451.9,351.8 451.9,471.3 278,471.3Z"/>
<path fill="#30ffc7" d="M315.2,457.4 337,434.1 355.6,417 371.1,404.6 386.6,395.2 405.3,389 428.6,384.4 451.9,382.8 451.9,471.3 315.2,471.3Z"/>
<path fill="#63ff94" d="M347.8,457.4 368,438.7 386.6,424.8 405.3,415.4 428.6,407.7 451.9,404.6 451.9,471.3 347.8,471.3Z"/>
<path fill="#97ff60" d="M380.4,457.4 399.1,443.4 417.7,434.1 436.3,427.9 451.9,424.4 451.9,471.3 380.4,471.3Z"/>
<path fill="#caff2c" d="M423.9,457.4 436.3,451.1 451.9,446 451.9,471.3Z"/>
</svg>
<svg x="440" y="285" width="200" height="170" viewBox="440 285 200 170">
<rect x="439" y="284" width="203" height="173" fill="#0060ff"/>
<path fill="#0020ff" d="M438.4,283.4 460.2,283.4 460.2,286.2 438.4,286.9Z"/>
<path fill="#00a0ff" d="M438.4,324.6 471.1,320.7 502.1,316.1 525.4,313 540.9,312.2 561.1,313.7 576.6,319.9 589.1,326.1 603,330.8 618.6,330.8 641.9,325.8 641.9,471.3 438.4,471.3Z"/>
<path fill="#00e0fb" d="M438.4,353.3 471.1,355.7 502.1,357.2 533.2,358.8 564.2,360.3 587.5,360.3 610.8,357.2 641.9,351.5 641.9,471.3 438.4,471.3Z"/>
<path fill="#30ffc7" d="M438.4,382 471.1,384.4 502.1,385.9 533.2,384.4 564.2,380.5 595.3,375.1 641.9,365.4 641.9,471.3 438.4,471.3Z"/>
<path fill="#63ff94" d="M438.4,404.6 471.1,405.3 502.1,403.8 540.9,399.6 579.8,392.9 610.8,386.7 641.9,379.7 641.9,471.3 438.4,471.3Z"/>
<path fill="#97ff60" d="M438.4,424 471.1,423.2 502.1,419.3 540.9,413.1 579.8,406.1 610.8,400.7 641.9,394.6 641.9,471.3 438.4,471.3Z"/>
<path fill="#caff2c" d="M438.4,446.8 471.1,441.8 502.1,434.8 540.9,427.1 579.8,419.3 610.8,413.9 641.9,408.9 641.9,471.3 438.4,471.3Z"/>
<path fill="#feed00" d="M481.9,455.8 502.1,449.6 540.9,441.1 579.8,433.3 610.8,427.9 641.9,423.7 641.9,471.3 481.9,471.3Z"/>
<path fill="#ffb200" d="M593.7,455.8 618.6,450.4 641.9,446.2 641.9,471.3Z"/>
</svg>
<svg x="630" y="285" width="200" height="170" viewBox="630 285 200 170">
<rect x="629" y="284" width="203" height="173" fill="#0060ff"/>
<path fill="#0020ff" d="M821,283.4 831.9,283.4 831.9,288.9 825.7,286.9Z"/>
<path fill="#00a0ff" d="M628.4,328.2 661.1,321.5 692.1,317.6 723.2,316.1 754.2,316.8 785.3,319.9 831.9,325.7 831.9,471.3 628.4,471.3Z"/>
<path fill="#00e0fb" d="M628.4,353.6 661.1,347.1 692.1,343.2 723.2,342.5 754.2,343.2 785.3,344.8 831.9,349 831.9,471.3 628.4,471.3Z"/>
<path fill="#30ffc7" d="M628.4,367.6 661.1,362.6 692.1,359.5 723.2,358.8 754.2,359.5 785.3,361.1 831.9,364.3 831.9,471.3 628.4,471.3Z"/>
<path fill="#63ff94" d="M628.4,381.6 661.1,377.4 692.1,374.8 723.2,373.8 754.2,374.3 785.3,375.8 831.9,379.1 831.9,471.3 628.4,471.3Z"/>
<path fill="#97ff60" d="M628.4,394.8 661.1,390.6 692.1,388.3 723.2,387.5 754.2,387.8 785.3,389 831.9,392.3 831.9,471.3 628.4,471.3Z"/>
<path fill="#caff2c" d="M628.4,408.8 661.1,404.6 692.1,402.2 723.2,401.5 754.2,401.5 785.3,402.7 831.9,405.5 831.9,471.3 628.4,471.3Z"/>
<path fill="#feed00" d="M628.4,423.5 661.1,420.1 692.1,418.2 723.2,417.3 754.2,417.3 785.3,418.5 831.9,420.2 831.9,471.3 628.4,471.3Z"/>
<path fill="#ffb200" d="M628.4,446 661.1,440.3 692.1,436.4 723.2,434.8 754.2,434.1 785.3,433.3 831.9,432.5 831.9,471.3 628.4,471.3Z"/>
<path fill="#ff7700" d="M755.8,455.8 785.3,451.1 808.6,448 831.9,445.6 831.9,471.3Z"/>
</svg>
<svg x="820" y="285" width="200" height="170" viewBox="820 285 200 170">
<rect x="819" y="284" width="203" height="173" fill="#0020ff"/>
<path fill="#0060ff" d="M818.4,287.8 851.1,294.3 882.1,299.8 913.2,303.6 944.2,305.2 975.3,303.6 1021.9,299.8 1021.9,471.3 818.4,471.3Z"/>
<path fill="#00a0ff" d="M818.4,325.7 843.3,328.5 866.6,332.4 889.9,337.8 913.2,343.2 936.5,347.9 959.8,351.8 983,355.7 1010.1,361.1 1021.9,363 1021.9,471.3 818.4,471.3Z"/>
<path fill="#00e0fb" d="M818.4,348.7 843.3,350.2 866.6,353.3 889.9,358 913.2,365 936.5,372 959.8,378.9 983,385.9 1010.1,392.1 1021.9,394.9 1021.9,471.3 818.4,471.3Z"/>
<path fill="#30ffc7" d="M818.4,364.2 843.3,365 866.6,367.3 889.9,371.2 913.2,376.6 936.5,383.6 959.8,392.1 983,402.2 1006.3,413.9 1021.9,422.4 1021.9,471.3 818.4,471.3Z"/>
<path fill="#63ff94" d="M818.4,378.9 843.3,379.4 866.6,381.3 889.9,384.4 913.2,389.8 936.5,397.6 959.8,407.7 983,421.6 998.6,434.1 1012.5,448 1021.9,456.6 818.4,471.3Z"/>
<path fill="#97ff60" d="M818.4,392.1 843.3,392.5 866.6,394.5 889.9,397.6 913.2,403.8 936.5,412.3 959.8,424.8 975.3,438.7 987.7,455.8 818.4,471.3Z"/>
<path fill="#caff2c" d="M818.4,405.3 843.3,405.8 866.6,407.7 889.9,411.6 913.2,418.5 936.5,429.4 952,441.8 963.6,455.8 818.4,471.3Z"/>
<path fill="#feed00" d="M818.4,420.1 843.3,420.1 866.6,422.4 889.9,427.1 913.2,434.8 928.7,443.4 940.3,455.8 818.4,471.3Z"/>
<path fill="#ffb200" d="M818.4,432.5 843.3,433.3 866.6,436.4 889.9,441.8 905.4,448 917,455.8 818.4,471.3Z"/>
<path fill="#ff7700" d="M818.4,444.9 835.5,446.5 851.1,449.6 872,455.8 818.4,471.3Z"/>
</svg>
<svg x="1010" y="285" width="206" height="170" viewBox="1010 285 206 170">
<rect x="1009" y="284" width="209" height="173" fill="#0020ff"/>
<path fill="#0060ff" d="M1008.4,300.5 1056.6,299.3 1103.2,298.7 1149.8,299.3 1180.8,302.1 1218.1,306.3 1218.1,471.3 1008.4,471.3Z"/>
<path fill="#00a0ff" d="M1008.4,361.1 1041.1,367.3 1072.1,374.3 1103.2,382 1134.2,390.6 1165.3,403 1188.6,417 1204.1,429.4 1218.1,441.8 1218.1,471.3 1008.4,471.3Z"/>
<path fill="#00e0fb" d="M1008.4,392.1 1041.1,396.8 1072.1,403.8 1103.2,413.1 1126.5,424.8 1142,438.7 1150.5,455.8 1008.4,471.3Z"/>
<path fill="#30ffc7" d="M1008.4,415.4 1025.5,418.5 1041.1,424.8 1056.6,434.1 1064.3,443.4 1067.8,455.8 1008.4,471.3Z"/>
<path fill="#63ff94" d="M1008.4,441.8 1017.8,446.5 1022.7,455.8 1008.4,471.3Z"/>
</svg>
<svg x="1216" y="285" width="204" height="170" viewBox="1216 285 204 170">
<rect x="1215" y="284" width="207" height="173" fill="#0060ff"/>
<path fill="#0020ff" d="M1213.8,307.5 1235.5,314.5 1251.1,316.8 1274.3,316.8 1294.5,318.4 1307,325.4 1320.9,334.7 1336.5,345.6 1352,353.3 1369.1,358.8 1387.7,360.3 1411,357.7 1411,283.4 1213.8,283.4Z"/>
<path fill="#0020ff" d="M1315.5,455.8 1325.6,443.4 1341.1,435.6 1359.8,430.2 1383,427.1 1411,426.8 1411,455.8Z"/>
<path fill="#00a0ff" d="M1213.8,441.1 1224.7,449.6 1231.6,455.8 1213.8,455.8Z"/>
</svg>
<svg x="60" y="450" width="200" height="170" viewBox="60 450 200 170">
<rect x="59" y="449" width="203" height="173" fill="#0020ff"/>
<path fill="#0000ed" d="M152.4,453.1 171.8,453.1 177.2,460.9 178.8,470.2 178.8,493.5 178,512.1 177.2,530.7 174.1,540.1 171,545.5 167.1,543.9 153.2,533.1 149.3,524.5 144.6,516 136.1,506.7 128.3,497.4 124.9,487.3 125.2,478 129.9,470.2 139.2,460.9 147,456.2Z"/>
<path fill="#0060ff" d="M224.6,448.4 218.4,465.5 215.3,481.1 215.3,501.2 219.2,521.4 219.9,541.6 216.8,555.6 209.1,571.1 201.3,585.1 197.4,600.6 199.8,611.5 205.2,620.8 261.9,620.8 261.9,448.4Z"/>
<path fill="#00a0ff" d="M252.5,448.4 244.8,470.2 242.5,487.3 245.6,504.3 252.5,523 255.7,538.5 254.9,554 250.2,571.1 249.4,588.2 254.1,595.2 261.9,603 261.9,448.4Z"/>
</svg>
<svg x="250" y="450" width="200" height="170" viewBox="250 450 200 170">
<rect x="249" y="449" width="203" height="173" fill="#00a0ff"/>
<path fill="#0060ff" d="M248.4,448.4 252.5,448.4 250,459.3 248.4,465.5Z"/>
<path fill="#0060ff" d="M248.4,516.8 253.9,527.6 255.6,541.6 253.1,558.7 248.4,572.7Z"/>
<path fill="#0060ff" d="M248.4,589.8 257.8,600.6 268.6,606.8 281.1,614.6 289.6,620.8 248.4,620.8Z"/>
<path fill="#00e0fb" d="M281.1,448.4 274.8,462.4 271.7,478 273.3,491.9 279.5,504.3 287.3,518.3 296.6,533.9 309,550.9 324.5,568 338.5,581.2 346.3,591.3 350.9,603.7 355.9,620.8 451.9,620.8 451.9,448.4Z"/>
<path fill="#30ffc7" d="M321.4,448.4 310.6,459.3 304.3,471.7 303.6,484.2 307.5,496.6 315.2,512.1 326.1,526.1 341.6,541.6 358.7,557.1 374.2,569.6 389.8,583.5 405.3,597.5 414.6,609.9 424.7,620.8 451.9,620.8 451.9,448.4Z"/>
<path fill="#63ff94" d="M354,448.4 341.6,462.4 334.6,474.8 333.9,488.8 338.5,502.8 349.4,516.8 364.9,532.3 382,544.7 399.1,557.1 417.7,571.1 436.3,583.5 451.9,592.5 451.9,448.4Z"/>
<path fill="#97ff60" d="M389.8,448.4 371.1,464 361.8,474.8 358.7,487.3 361.8,499.7 371.1,512.1 386.6,524.5 405.3,537 423.9,550.9 441,563.4 451.9,569.9 451.9,448.4Z"/>
<path fill="#caff2c" d="M445.7,448.4 420.8,460.9 402.2,470.2 392.9,479.5 391.3,488.8 396,498.1 408.4,509 423.9,521.4 439.4,535.4 451.9,544.7 451.9,448.4Z"/>
</svg>
<svg x="440" y="450" width="200" height="170" viewBox="440 450 200 170">
<rect x="439" y="449" width="203" height="173" fill="#caff2c"/>
<path fill="#97ff60" d="M438.4,536.2 455.5,544.7 478.8,555.6 502.1,564.9 525.4,572.7 548.7,578.9 572,584.3 595.3,588.2 618.6,589.8 641.9,589.8 641.9,636.3 438.4,636.3Z"/>
<path fill="#63ff94" d="M438.4,560.2 463.3,571.1 486.6,580.4 509.9,588.2 533.2,594.4 556.5,599.1 579.8,603 603,605.3 641.9,605.3 641.9,636.3 438.4,636.3Z"/>
<path fill="#30ffc7" d="M438.4,585.1 455.5,592.9 478.8,603 502.1,611.5 525.4,617.7 537,620.8 438.4,620.8Z"/>
<path fill="#feed00" d="M481.9,448.4 468,462.4 460.2,474.8 460.2,482.6 468,491.9 480.4,501.2 494.3,512.1 506.8,523 514.5,533.9 523.9,544.7 536.3,554 551.8,561.8 572,568 595.3,572.7 618.6,575.8 641.9,576.6 641.9,448.4Z"/>
<path fill="#ffb200" d="M593.7,448.4 572,454.7 548.7,457.8 530.1,464 519.2,471.7 519.2,481.1 527,493.5 536.3,505.9 542.5,518.3 548.7,530.7 558,540.1 572,547.8 587.5,552.5 603,557.1 618.6,559.5 641.9,560.2 641.9,448.4Z"/>
<path fill="#ff7700" d="M641.9,467.9 626.3,476.4 610.8,487.3 596.8,499.7 589.1,510.6 587.5,518.3 590.6,526.1 598.4,533.9 610.8,539.3 626.3,542.4 641.9,543.2Z"/>
</svg>
<svg x="630" y="450" width="200" height="170" viewBox="630 450 200 170">
<rect x="629" y="449" width="203" height="173" fill="#ff7700"/>
<path fill="#ffb200" d="M628.4,473.3 653.3,465.5 676.6,460.1 707.6,454.7 738.7,451.6 758.9,448.4 628.4,448.4Z"/>
<path fill="#ff3b00" d="M648.6,502.8 653.3,493.5 664.2,485.7 681.2,478.7 699.9,473.3 723.2,468.6 746.5,464.8 769.8,462.4 785.3,460.9 800.8,458.5 816.3,457.8 831.9,459.3 831.9,505.9 816.3,513.7 800.8,519.9 785.3,523 762,526.1 738.7,526.9 715.4,526.1 692.1,524.5 673.5,522.2 658,518.3 651.7,512.1Z"/>
<path fill="#e80000" d="M727,497.4 738.7,487.3 754.2,481.1 769.8,477.2 785.3,474.8 800.8,474.1 813.2,475.6 819.4,481.1 821,488 816.3,496.6 808.6,504.3 797.7,510.6 785.3,513.7 769.8,514.4 754.2,512.1 738.7,507.5 732.5,502.8Z"/>
<path fill="#ffb200" d="M628.4,543.2 645.5,544.7 668.8,543.2 692.1,541.6 715.4,540.1 738.7,538.5 762,536.2 785.3,532.3 808.6,526.1 831.9,518.8 831.9,636.3 628.4,636.3Z"/>
<path fill="#feed00" d="M628.4,560.2 653.3,561 676.6,558.7 707.6,554.8 738.7,550.9 769.8,546.3 793,541.6 816.3,534.6 831.9,529.7 831.9,636.3 628.4,636.3Z"/>
<path fill="#caff2c" d="M628.4,576.6 653.3,576.6 676.6,574.2 707.6,570.3 738.7,565.7 769.8,560.2 800.8,551.7 831.9,541.3 831.9,636.3 628.4,636.3Z"/>
<path fill="#97ff60" d="M628.4,589.8 653.3,590.5 676.6,589 707.6,585.1 738.7,579.7 769.8,573.4 800.8,564.9 831.9,554.3 831.9,636.3 628.4,636.3Z"/>
<path fill="#63ff94" d="M628.4,605.3 653.3,606.1 676.6,604.5 707.6,600.6 738.7,595.2 769.8,588.2 800.8,579.7 831.9,569.3 831.9,636.3 628.4,636.3Z"/>
<path fill="#30ffc7" d="M667.3,620.8 692.1,617.7 723.2,613 754.2,606.8 785.3,599.1 808.6,593.6 831.9,587 831.9,636.3Z"/>
<path fill="#00e0fb" d="M819.4,620.8 831.9,612.3 831.9,620.8Z"/>
</svg>
<svg x="820" y="450" width="200" height="170" viewBox="820 450 200 170">
<rect x="819" y="449" width="203" height="173" fill="#00a0ff"/>
<path fill="#00e0fb" d="M1021.9,568.8 998.6,577.3 975.3,585.1 952,592.9 928.7,600.6 905.4,608.4 882.1,616.9 872.8,620.8 818.4,620.8 818.4,448.4 1021.9,448.4Z"/>
<path fill="#30ffc7" d="M1021.9,540.8 1006.3,552.5 990.8,561.8 967.5,571.1 944.2,578.9 920.9,585.9 897.6,592.9 874.3,599.8 851.1,606.8 827.8,613 818.4,615.4 818.4,448.4 1021.9,448.4Z"/>
<path fill="#63ff94" d="M1011.8,448.4 1018,459.3 1021.1,468.6 1021.1,493.5 1017.2,507.5 1009.4,523 995.5,537 978.4,547.8 959.8,557.1 936.5,565.7 913.2,572.7 889.9,579.7 866.6,585.9 843.3,591.3 818.4,596.7 818.4,448.4Z"/>
<path fill="#97ff60" d="M984.6,448.4 995.5,460.9 1000.9,473.3 1001.7,488.8 998.6,502.8 989.3,516.8 975.3,529.2 956.6,539.3 936.5,547.8 913.2,555.6 889.9,561.8 866.6,568 843.3,573.4 818.4,578.9 818.4,448.4Z"/>
<path fill="#caff2c" d="M958.2,448.4 970.6,460.9 978.4,473.3 980.7,487.3 976.8,501.2 967.5,513.7 953.5,524.5 936.5,532.3 916.3,540.1 894.5,546.3 869.7,552.5 843.3,558.7 818.4,563.4 818.4,448.4Z"/>
<path fill="#feed00" d="M936.5,448.4 948.9,460.9 956.6,473.3 958.2,485.7 953.5,496.6 944.2,507.5 928.7,516.8 913.2,523 894.5,529.2 874.3,535.4 851.1,542.4 827.8,547 818.4,549.1 818.4,448.4Z"/>
<path fill="#ffb200" d="M910.1,448.4 920.9,459.3 927.1,470.2 927.9,481.1 922.5,491.9 910.1,499.7 894.5,505.1 879,512.1 863.5,519.9 848,527.6 832.4,532.3 818.4,536.2 818.4,448.4Z"/>
<path fill="#ff7700" d="M866.6,448.4 877.5,457.8 883.7,468.6 882.1,478 875.9,487.3 865,496.6 851.1,507.5 835.5,517.5 818.4,524.5 818.4,448.4Z"/>
<path fill="#ff3b00" d="M818.4,458.5 832.4,460.9 843.3,467.1 848.7,476.4 847.2,485.7 840.2,496.6 829.3,505.9 818.4,511.3Z"/>
<path fill="#e80000" d="M818.4,484.9 821.6,487.3 818.4,489.6Z"/>
</svg>
<svg x="1010" y="450" width="206" height="170" viewBox="1010 450 206 170">
<rect x="1009" y="449" width="209" height="173" fill="#00a0ff"/>
<path fill="#00e0fb" d="M1150.5,448.4 1148.2,459.3 1143.5,467.1 1131.1,478 1110.9,487.3 1087.6,496.6 1072.1,504.3 1061.2,516.8 1053.5,529.2 1045.7,546.3 1034.8,561.8 1022.4,572.7 1008.4,578.1 1008.4,448.4Z"/>
<path fill="#30ffc7" d="M1068.2,448.4 1065.9,462.4 1056.6,474.8 1047.3,488.8 1039.5,504.3 1031.7,519.9 1024,535.4 1016.2,546.3 1008.4,551.7 1008.4,448.4Z"/>
<path fill="#63ff94" d="M1008.4,448.4 1023.2,448.4 1024.8,462.4 1023.2,478 1019.3,493.5 1014.7,509 1008.4,519.9Z"/>
<path fill="#0060ff" d="M1218.1,506.4 1196.3,507.5 1180.8,510.6 1157.5,516 1134.2,521.4 1110.9,526.1 1093.9,532.3 1083,541.6 1075.2,552.5 1069,564.9 1064.3,578.9 1058.1,592.9 1051.9,606.8 1048.5,620.8 1218.1,620.8Z"/>
<path fill="#0020ff" d="M1218.1,590.5 1196.3,590.5 1180.8,592.1 1165.3,594.4 1149.8,596.7 1137.3,602.2 1129.6,609.9 1123,620.8 1218.1,620.8Z"/>
</svg>
<svg x="1216" y="450" width="204" height="170" viewBox="1216 450 204 170">
<rect x="1215" y="449" width="207" height="173" fill="#0020ff"/>
<path fill="#0060ff" d="M1213.8,448.4 1317.8,448.4 1319.4,457.8 1325.6,465.5 1336.5,473.3 1352,481.1 1367.5,490.4 1379.9,501.2 1390.8,513.7 1398.6,527.6 1400.1,543.2 1395.5,558.7 1387.7,571.1 1375.3,582 1359.8,588.2 1344.2,592.1 1320.9,593.6 1297.6,594.4 1274.3,594.4 1251.1,593.6 1213.8,591.6Z"/>
<path fill="#00a0ff" d="M1213.8,440.7 1229.3,453.1 1240.2,464 1255.7,477.2 1266.6,488.8 1271.2,498.1 1268.1,510.6 1260.4,518.6 1240.2,517.9 1213.8,512.1Z"/>
</svg>
<svg x="60" y="620" width="200" height="170" viewBox="60 620 200 170">
<rect x="59" y="619" width="203" height="173" fill="#0020ff"/>
<path fill="#0000ed" d="M75.5,618.4 95.7,619.2 122.1,626.2 143.9,635.5 159.4,646.4 167.1,657.3 162.5,666.6 150.1,675.9 129.9,683.7 106.6,688.3 75.5,691.4Z"/>
<path fill="#0060ff" d="M75.5,729.5 106.6,723.3 137.6,716.3 168.7,708.5 199.8,700.7 230.8,691.4 249.4,683.7 255.7,675.9 252.5,666.6 243.2,655.7 230.8,643.3 215.3,629.3 203.6,618.4 261.9,618.4 261.9,790.8 75.5,790.8Z"/>
<path fill="#00a0ff" d="M199.8,788.5 230.8,784.6 246.3,781.5 261.9,777.1 261.9,790.8 199.8,790.8Z"/>
</svg>
<svg x="250" y="620" width="200" height="170" viewBox="250 620 200 170">
<rect x="249" y="619" width="203" height="173" fill="#0060ff"/>
<path fill="#00a0ff" d="M289.6,618.4 304.3,635.5 319.9,649.5 337,658.8 358.7,665.8 382,671.2 405.3,675.9 428.6,679.8 451.9,684 451.9,618.4Z"/>
<path fill="#00e0fb" d="M355.6,618.4 361.8,629.3 372.7,638.6 386.6,646.4 405.3,653.4 423.9,658 451.9,663 451.9,618.4Z"/>
<path fill="#30ffc7" d="M424.7,618.4 436.3,627.8 451.9,635.5 451.9,618.4Z"/>
<path fill="#00a0ff" d="M248.4,779.2 265.5,770.6 271.7,761.3 284.2,750.4 301.2,744.2 319.9,740.3 343.2,739.6 366.5,738.8 389.8,736.5 420.8,735.7 451.9,734.9 451.9,790.8 248.4,790.8Z"/>
<path fill="#0020ff" d="M248.4,662.7 253.1,666.6 255.9,674.3 253.9,682.1 248.4,685.2Z"/>
</svg>
<svg x="440" y="620" width="200" height="170" viewBox="440 620 200 170">
<rect x="439" y="619" width="203" height="173" fill="#00a0ff"/>
<path fill="#00e0fb" d="M438.4,657.3 463.3,664.3 486.6,668.9 509.9,671.2 533.2,671.2 564.2,668.1 595.3,663.5 641.9,654.6 641.9,618.4 438.4,618.4Z"/>
<path fill="#30ffc7" d="M438.4,631.6 463.3,638.6 486.6,643.3 509.9,645.6 533.2,645.6 564.2,643.3 595.3,639.4 641.9,632.9 641.9,618.4 438.4,618.4Z"/>
<path fill="#0060ff" d="M438.4,681.3 463.3,686.8 486.6,690.7 509.9,692.2 533.2,692.2 564.2,690.7 595.3,686.8 641.9,680.2 641.9,703.5 595.3,711.6 564.2,717 533.2,722.5 509.9,725.6 486.6,728.7 463.3,731.8 438.4,735.2Z"/>
<path fill="#00e0fb" d="M617,757.4 626.3,754.3 641.9,751.2 641.9,761.3 626.3,759.8Z"/>
</svg>
<svg x="630" y="620" width="200" height="170" viewBox="630 620 200 170">
<rect x="629" y="619" width="203" height="173" fill="#00a0ff"/>
<path fill="#00e0fb" d="M628.4,656 661.1,651.1 692.1,648 723.2,645.6 754.2,644.1 785.3,640.2 831.9,632.1 831.9,618.4 628.4,618.4Z"/>
<path fill="#30ffc7" d="M628.4,635.5 676.6,634 723.2,632.4 769.8,628.5 800.8,624.7 820.2,618.4 628.4,618.4Z"/>
<path fill="#0060ff" d="M628.4,687.1 653.3,679 676.6,672.8 699.9,668.1 723.2,665.8 754.2,664.3 785.3,660.4 831.9,653.9 831.9,700.9 785.3,698.4 754.2,696.9 723.2,696.1 684.3,696.1 653.3,699.2 628.4,704.2Z"/>
<path fill="#00e0fb" d="M647.1,765.2 661.1,768.3 692.1,770.6 723.2,770.6 754.2,769.1 785.3,766 808.6,761.3 821,756.6 824.9,751.2 816.3,744.2 800.8,738.8 777.5,733.4 754.2,730.2 730.9,729.5 707.6,731.8 692.1,738 676.6,742.7 653.3,745.8 630,750.4 628.4,760.5 639.3,762.1Z"/>
</svg>
<svg x="820" y="620" width="200" height="170" viewBox="820 620 200 170">
<rect x="819" y="619" width="203" height="173" fill="#00a0ff"/>
<path fill="#00e0fb" d="M818.4,636.3 843.3,629.3 873.6,618.4 818.4,618.4Z"/>
<path fill="#0060ff" d="M818.4,654.9 827.8,653.9 848,654.5 865,657.3 874.3,665 882.1,673.6 891.4,681.3 900.7,686.8 913.2,688.6 928.7,688.3 944.2,686 959.8,682.1 975.3,676.7 990.8,670.5 1006.3,664.3 1021.9,658.4 1021.9,746.9 998.6,743.4 975.3,739.6 959.8,735.7 944.2,731.8 928.7,727.1 913.2,720.9 897.6,714.7 882.1,708.5 858.8,704.6 835.5,702.3 818.4,700.7Z"/>
<path fill="#00e0fb" d="M818.4,746.6 824.7,751.7 818.4,758.2Z"/>
</svg>
<svg x="1010" y="620" width="206" height="170" viewBox="1010 620 206 170">
<rect x="1009" y="619" width="209" height="173" fill="#0060ff"/>
<path fill="#00a0ff" d="M1048.8,618.4 1047.3,634 1041.1,643.3 1031.7,651.1 1020.9,657.3 1008.4,663.5 1008.4,618.4Z"/>
<path fill="#0020ff" d="M1122.6,618.4 1124.9,635.5 1129.6,649.5 1137.3,661.9 1149.8,672.8 1165.3,679.8 1180.8,683.7 1196.3,686.8 1218.1,689.1 1218.1,618.4Z"/>
<path fill="#0000ed" d="M1218.1,626.2 1210,627 1199.4,629.3 1190.9,637.9 1201,646.4 1210,649.5 1218.1,650.3Z"/>
<path fill="#00a0ff" d="M1008.4,744.7 1025.5,748.1 1048.8,753.5 1072.1,760.5 1095.4,769.1 1118.7,776.8 1142,782.3 1165.3,785.4 1182.4,787.7 1182.4,790.8 1008.4,790.8Z"/>
</svg>
<svg x="1216" y="620" width="204" height="170" viewBox="1216 620 204 170">
<rect x="1215" y="619" width="207" height="173" fill="#0060ff"/>
<path fill="#0020ff" d="M1213.8,689.9 1243.3,694.5 1266.6,700.7 1289.9,707.7 1313.2,714.7 1336.5,720.9 1359.8,727.1 1383,731 1411,733.4 1411,618.4 1213.8,618.4Z"/>
<path fill="#0000ed" d="M1213.8,626.2 1266.6,624.7 1313.2,623.9 1359.8,623.1 1411,622.3 1411,691.4 1375.3,688.3 1344.2,683.7 1313.2,677.5 1282.1,669.7 1251.1,661.1 1213.8,653.4Z"/>
</svg>
</g>
<use href="#coast" class="coast"/>
</g>
<rect class="frame" x="78.4" y="132.5" width="1331.1" height="655.8"/>
<rect x="78.4" y="831.2" width="83.8" height="65.3" fill="#0000a4"/><rect x="161.6" y="831.2" width="83.8" height="65.3" fill="#0000ed"/><rect x="244.8" y="831.2" width="83.8" height="65.3" fill="#0020ff"/><rect x="328" y="831.2" width="83.8" height="65.3" fill="#0060ff"/><rect x="411.2" y="831.2" width="83.8" height="65.3" fill="#00a0ff"/><rect x="494.4" y="831.2" width="83.8" height="65.3" fill="#00e0fb"/><rect x="577.6" y="831.2" width="83.8" height="65.3" fill="#30ffc7"/><rect x="660.8" y="831.2" width="83.8" height="65.3" fill="#63ff94"/><rect x="743.9" y="831.2" width="83.8" height="65.3" fill="#97ff60"/><rect x="827.1" y="831.2" width="83.8" height="65.3" fill="#caff2c"/><rect x="910.3" y="831.2" width="83.8" height="65.3" fill="#feed00"/><rect x="993.5" y="831.2" width="83.8" height="65.3" fill="#ffb200"/><rect x="1076.7" y="831.2" width="83.8" height="65.3" fill="#ff7700"/><rect x="1159.9" y="831.2" width="83.8" height="65.3" fill="#ff3b00"/><rect x="1243.1" y="831.2" width="83.8" height="65.3" fill="#e80000"/><rect x="1326.3" y="831.2" width="83.2" height="65.3" fill="#9f0000"/>
<rect class="frame" x="78.4" y="831.2" width="1331.1" height="65.3"/>
<line class="tk" x1="78.4" y1="896.5" x2="78.4" y2="912.7"/><text class="tick" x="78.4" y="959">0</text>
<line class="tk" x1="244.8" y1="896.5" x2="244.8" y2="912.7"/><text class="tick" x="244.8" y="959">5</text>
<line class="tk" x1="411.2" y1="896.5" x2="411.2" y2="912.7"/><text class="tick" x="411.2" y="959">10</text>
<line class="tk" x1="577.6" y1="896.5" x2="577.6" y2="912.7"/><text class="tick" x="577.6" y="959">15</text>
<line class="tk" x1="743.9" y1="896.5" x2="743.9" y2="912.7"/><text class="tick" x="743.9" y="959">20</text>
<line class="tk" x1="910.3" y1="896.5" x2="910.3" y2="912.7"/><text class="tick" x="910.3" y="959">25</text>
<line class="tk" x1="1076.7" y1="896.5" x2="1076.7" y2="912.7"/><text class="tick" x="1076.7" y="959">30</text>
<line class="tk" x1="1243.1" y1="896.5" x2="1243.1" y2="912.7"/><text class="tick" x="1243.1" y="959">35</text>
<line class="tk" x1="1409.5" y1="896.5" x2="1409.5" y2="912.7"/><text class="tick" x="1409.5" y="959">40</text>
</g>
<g transform="translate(0,984.5)">
<text class="title" x="744" y="107.5">Ionosphere  (h=450.0 km), 2008-11-13 15:00 UT</text>
<g clip-path="url(#mapclip)">
<g shape-rendering="crispEdges">
<rect x="0" y="0" width="1500" height="900" fill="#0000a4"/>
<svg x="60" y="119.5" width="341" height="342" viewBox="60 119.5 341 342">
<rect x="59" y="118.5" width="344" height="345" fill="#0000a4"/>
<path fill="#0000ed" d="M98.8,282 122.1,275.8 159.4,271.7 199.8,274.2 227.7,280.4 249.4,286.6 268.1,286.6 292.9,275.8 317.8,260.3 339.5,244.7 353.5,226.1 358.1,209 370.6,188.8 401.6,173.3 432.7,164 463.7,159.3 463.7,462.1 244.8,462.1 261.9,434.2 271.2,409.3 274.3,384.5 271.2,356.5 261.9,334.8 246.3,323.9 227.7,320.8 199.8,320.8 168.7,317.7 140.7,309.9 115.9,294.4Z"/>
<path fill="#0020ff" d="M275.8,462.1 296,437.3 306.9,412.4 308.4,384.5 310,356.5 313.1,331.7 320.9,309.9 339.5,291.3 364.3,275.8 389.2,263.4 410.9,254 432.7,241.6 448.2,229.2 463.7,213.7 463.7,462.1Z"/>
<path fill="#0060ff" d="M313.1,462.1 339.5,434.2 355,409.3 358.1,390.7 364.3,372.1 376.8,353.4 395.4,337.9 417.1,325.5 438.9,316.2 463.7,305.3 463.7,462.1Z"/>
<path fill="#00a0ff" d="M350.4,462.1 373.7,440.4 395.4,421.7 417.1,406.2 438.9,395.3 463.7,386 463.7,462.1Z"/>
<path fill="#00e0fb" d="M387.6,462.1 410.9,443.5 432.7,429.5 463.7,414 463.7,462.1Z"/>
<path fill="#30ffc7" d="M431.1,462.1 448.2,452.8 463.7,445 463.7,462.1Z"/>
</svg>
<svg x="400" y="119.5" width="341" height="342" viewBox="400 119.5 341 342">
<rect x="399" y="118.5" width="344" height="345" fill="#0000a4"/>
<path fill="#0000ed" d="M396.9,164 462.1,167.1 524.2,170.2 586.3,172.7 648.4,174.8 710.6,179.5 757.1,184.2 803.7,191 803.7,462.1 396.9,462.1Z"/>
<path fill="#0020ff" d="M396.9,249.4 431.1,229.2 462.1,215.2 493.2,207.5 524.2,204.4 570.8,205 617.4,209 664,215.2 710.6,224.5 741.6,235.4 766.5,247.8 782,260.3 791.3,275.8 803.7,297.5 803.7,462.1 396.9,462.1Z"/>
<path fill="#0060ff" d="M396.9,334.8 424.8,328.6 446.6,319.3 468.3,303.7 493.2,288.2 524.2,274.2 555.3,267.1 586.3,264.9 617.4,269.6 642.2,278.9 654.7,289.8 645.3,303.7 623.6,313 598.8,322.4 577,334.8 567.7,344.1 580.1,353.4 605,358.1 636,355 679.5,351.9 726.1,353.4 772.7,358.1 803.7,361.5 803.7,462.1 396.9,462.1Z"/>
<path fill="#00a0ff" d="M396.9,393.8 431.1,396.9 477.6,396.9 524.2,390.7 570.8,381.4 617.4,375.2 664,373.6 710.6,375.2 757.1,378.3 803.7,381.4 803.7,462.1 396.9,462.1Z"/>
<path fill="#00e0fb" d="M396.9,431.1 431.1,423.3 459.9,415.5 493.2,407.8 539.8,400 586.3,393.8 632.9,390.7 679.5,390.7 726.1,392.2 803.7,396.9 803.7,462.1 396.9,462.1Z"/>
<path fill="#30ffc7" d="M409.3,462.1 437.3,452.8 459.9,446.6 493.2,434.2 539.8,421.7 586.3,414 632.9,409.3 679.5,409.3 726.1,410.9 803.7,414 803.7,462.1Z"/>
<path fill="#63ff94" d="M455.9,462.1 493.2,449.7 539.8,437.3 586.3,429.5 632.9,426.4 679.5,426.4 726.1,428 803.7,431.1 803.7,462.1Z"/>
<path fill="#97ff60" d="M546,462.1 586.3,454.4 632.9,451.2 679.5,452.2 726.1,455.9 757.1,462.1Z"/>
</svg>
<svg x="740" y="119.5" width="301" height="342" viewBox="740 119.5 301 342">
<rect x="739" y="118.5" width="304" height="345" fill="#0000a4"/>
<path fill="#0000ed" d="M736.9,181.1 771.1,187.3 802.1,198.1 833.2,213.7 858,229.2 873.5,244.7 878.2,260.3 870.4,278.9 861.1,294.4 854.9,309.9 854.9,325.5 867.3,337.9 886,350.3 913.9,362.7 945,375.2 982.2,384.5 1019.5,390.7 1050.6,393.8 1081.6,396.3 1112.7,398.5 1143.7,400 1143.7,462.1 736.9,462.1Z"/>
<path fill="#0020ff" d="M736.9,230.7 786.6,260.3 795.9,285.1 817.6,306.8 842.5,322.4 870.4,344.1 901.5,362.7 938.8,381.4 976,396.9 1019.5,409.3 1050.6,415.5 1081.6,428 1106.5,443.5 1128.2,462.1 736.9,462.1Z"/>
<path fill="#0060ff" d="M736.9,356.5 786.6,358.1 833.2,365.8 870.4,378.3 907.7,393.8 945,409.3 982.2,424.8 1019.5,440.4 1038.1,452.8 1045.9,462.1 736.9,462.1Z"/>
<path fill="#00a0ff" d="M736.9,377.6 786.6,378.9 833.2,387.6 870.4,401.6 901.5,417.1 926.3,431.1 951.2,446.6 971.4,462.1 736.9,462.1Z"/>
<path fill="#00e0fb" d="M736.9,392.9 786.6,395.3 827,403.1 864.2,417.1 895.3,432.6 920.1,448.1 937.2,462.1 736.9,462.1Z"/>
<path fill="#30ffc7" d="M736.9,411.2 786.6,413 827,421.7 858,434.2 886,449.7 903,462.1 736.9,462.1Z"/>
<path fill="#63ff94" d="M736.9,428.6 786.6,431.1 820.7,438.8 848.7,449.7 868.9,462.1 736.9,462.1Z"/>
<path fill="#97ff60" d="M736.9,452.2 786.6,450.3 827,453.4 854.9,462.1 736.9,462.1Z"/>
</svg>
<svg x="1040" y="119.5" width="401" height="342" viewBox="1040 119.5 401 342">
<rect x="1039" y="118.5" width="404" height="345" fill="#0000a4"/>
<path fill="#0000ed" d="M1036.9,392.2 1071.1,393.8 1102.1,396.9 1133.2,403.1 1158,412.4 1179.8,424.8 1201.5,440.4 1220.1,452.8 1231,462.1 1036.9,462.1Z"/>
<path fill="#0020ff" d="M1036.9,418.6 1064.8,423.3 1089.7,431.1 1111.4,443.5 1128.5,462.1 1036.9,462.1Z"/>
</svg>
<svg x="60" y="459.5" width="341" height="342" viewBox="60 459.5 341 342">
<rect x="59" y="458.5" width="344" height="345" fill="#0000ed"/>
<path fill="#0000a4" d="M56.9,457.4 246.3,457.4 233.9,479.1 229.3,504 226.1,528.8 215.3,550.6 196.6,569.2 171.8,581.6 140.7,587.8 106.6,588.5 56.9,588.5Z"/>
<path fill="#0020ff" d="M275.8,457.4 268.1,485.3 268.1,516.4 261.9,538.1 246.3,559.9 224.6,584.7 206,603.4 196.6,622 196.6,653 190.4,662.4 171.8,674.8 147,684.1 115.9,690.3 56.9,695 56.9,802.1 463.7,802.1 463.7,457.4Z"/>
<path fill="#0060ff" d="M313.1,457.4 303.8,479.1 303.8,500.9 311.6,528.8 324,556.8 334.8,575.4 334.8,590.9 324,606.5 305.3,622 291.4,637.5 286.7,659.3 289.8,677.9 283.6,687.2 261.9,695 230.8,702.7 199.8,712.1 168.7,721.4 143.9,732.2 122.1,746.2 106.6,754 56.9,760.2 56.9,802.1 463.7,802.1 463.7,457.4Z"/>
<path fill="#00a0ff" d="M351.9,457.4 339.5,479.1 339.5,497.8 348.8,519.5 367.5,538.1 386.1,556.8 398.5,572.3 403.2,587.8 398.5,603.4 383,618.9 370.6,631.3 365.9,640.6 370.6,649.9 386.1,659.3 407.8,665.5 432.7,671.7 463.7,677 463.7,457.4Z"/>
<path fill="#00e0fb" d="M389.2,457.4 375.2,479.1 376.8,494.7 389.2,513.3 404.7,531.9 417.1,550.6 429.6,569.2 442,584.7 463.7,603.4 463.7,457.4Z"/>
<path fill="#30ffc7" d="M432.7,457.4 423.4,476 423.4,491.6 432.7,510.2 442,528.8 451.3,544.4 463.7,557.4 463.7,457.4Z"/>
<path fill="#00a0ff" d="M355,761.1 370.6,749.9 395.4,743.7 426.5,740 463.7,737.8 463.7,788.5 432.7,786.6 401.6,783.5 379.9,778.8 364.3,771.1Z"/>
</svg>
<svg x="400" y="459.5" width="341" height="342" viewBox="400 459.5 341 342">
<rect x="399" y="458.5" width="344" height="345" fill="#00a0ff"/>
<path fill="#00e0fb" d="M396.9,524.2 412.4,541.2 428,563 446.6,584.7 462.1,603.4 468.3,622 474.5,637.5 490.1,648.4 518,654.6 549.1,656.2 580.1,653 617.4,646.8 654.7,640.6 691.9,637.5 729.2,637.5 766.5,639.1 803.7,640.6 803.7,457.4 396.9,457.4Z"/>
<path fill="#30ffc7" d="M423.3,457.4 423.3,479.1 431.1,500.9 443.5,522.6 459,547.5 477.6,567.6 505.6,583.2 533.5,598.7 564.6,611.1 598.8,618.9 636,620.4 673.3,617.3 710.6,611.1 747.8,604.9 803.7,597.1 803.7,457.4Z"/>
<path fill="#63ff94" d="M471.4,457.4 471.4,472.9 480.7,488.5 499.4,500.9 511.8,516.4 516.5,535 522.7,553.7 536.6,569.2 558.4,581.6 586.3,590.9 617.4,595.6 654.7,595.6 691.9,590.9 729.2,583.2 766.5,573.9 803.7,566.1 803.7,457.4Z"/>
<path fill="#97ff60" d="M524.2,457.4 525.8,472.9 536.6,488.5 546,504 549.1,522.6 552.2,541.2 561.5,556.8 580.1,567.6 605,573.9 636,577 667.1,573.9 698.1,567.6 729.2,559.9 760.2,553.7 803.7,547.5 803.7,457.4Z"/>
<path fill="#caff2c" d="M594.1,527.3 605,507.1 623.6,488.5 648.4,476 679.5,471.4 710.6,469.8 741.6,469.8 772.7,471.4 803.7,474.5 803.7,527.3 766.5,530.4 735.4,533.5 704.3,539.7 673.3,547.5 642.2,552.1 617.4,549 601.9,541.2Z"/>
<path fill="#feed00" d="M786,497.1 790.7,497.1 790.7,499.6 786,499.6Z"/>
<path fill="#0060ff" d="M396.9,662.4 431.1,670.1 462.1,677.9 493.2,682.5 524.2,684.1 555.3,683.5 592.5,679.4 629.8,671.7 667.1,662.4 698.1,656.2 729.2,654.6 766.5,656.2 803.7,659.3 803.7,702.7 772.7,702.1 741.6,701.2 710.6,701.2 679.5,702.7 648.4,707.4 617.4,713.6 586.3,721.4 555.3,727.6 524.2,732.2 493.2,736.9 462.1,740 431.1,741.6 396.9,741.6Z"/>
<path fill="#0060ff" d="M396.9,578.5 403.7,587.8 396.9,597.1Z"/>
<path fill="#0060ff" d="M396.9,786.6 415.5,787.5 437.3,799 396.9,799Z"/>
</svg>
<svg x="740" y="459.5" width="301" height="342" viewBox="740 459.5 301 342">
<rect x="739" y="458.5" width="304" height="345" fill="#0060ff"/>
<path fill="#00a0ff" d="M999,455.5 1013.9,483.5 1016.7,511.4 1015.8,533.8 1006.5,552.4 987.8,565.5 950.6,574.8 913.3,589.7 885.3,610.2 857.4,627 820.1,641.9 774.2,651.5 736.9,654.6 736.9,455.5Z"/>
<path fill="#00e0fb" d="M969.2,455.5 987.8,474.2 997.1,492.8 997.1,515.2 987.8,533.8 969.2,546.8 931.9,559.9 894.7,576.6 857.4,599 820.1,615.8 771.1,639.1 736.9,640.6 736.9,455.5Z"/>
<path fill="#30ffc7" d="M950.6,455.5 967.3,474.2 974.8,492.8 972.9,511.4 959.9,526.3 931.9,539.4 894.7,554.3 857.4,571.1 820.1,584.1 777.3,612.7 736.9,618.9 736.9,455.5Z"/>
<path fill="#63ff94" d="M913.3,455.5 924.5,463 939.4,477.9 943.1,492.8 939.4,507.7 922.6,517 894.7,524.5 857.4,537.5 820.1,546.8 771.1,569.2 736.9,570.7 736.9,455.5Z"/>
<path fill="#97ff60" d="M870.4,455.5 879.8,466.7 882.5,479.8 874.2,498.4 857.4,513.3 838.8,524.5 820.1,530.1 771.1,541.2 736.9,547.5 736.9,455.5Z"/>
<path fill="#caff2c" d="M736.9,473.5 771.1,469.8 802.1,468.3 820.1,467.6 827.6,468.6 836.9,472.3 840.6,481.6 838.8,490.9 831.3,502.1 820.1,511.4 789.7,521.1 764.8,526.6 736.9,528.2Z"/>
<path fill="#feed00" d="M787.5,497.1 792.2,497.1 792.2,499.6 787.5,499.6Z"/>
<path fill="#0020ff" d="M1037.2,455.5 1041.9,492.8 1040.9,530.1 1041.9,567.3 1049.3,582.2 1063,594 1087.8,603.4 1109.6,615.8 1118.9,634.4 1125.1,656.2 1131.3,674.8 1143.7,688.8 1143.7,455.5Z"/>
<path fill="#0000ed" d="M1143.7,466.7 1118.9,476 1090.9,488.5 1072.3,507.1 1066.1,528.8 1070.7,547.5 1084.7,559.9 1106.5,567.6 1143.7,572.9Z"/>
<path fill="#00a0ff" d="M896.8,659.3 901.5,646.8 920.1,636 945,631.3 976,630.7 1004,634.4 1022.6,640.6 1029.4,646.8 1019.5,654.6 1000.9,662.4 976,673.2 951.2,681 926.3,684.7 907.7,679.4 898.4,670.1Z"/>
<path fill="#00a0ff" d="M736.9,701.2 771.1,704.3 802.1,705.8 833.2,708.9 864.2,713.6 879.8,716.7 901.5,724.5 926.3,736.9 957.4,749.3 988.4,758.6 1007.1,764.8 1016.4,771.1 1007.1,780.4 982.2,786.6 941.9,791.2 895.3,802.1 736.9,802.1Z"/>
</svg>
<svg x="1040" y="459.5" width="401" height="342" viewBox="1040 459.5 401 342">
<rect x="1039" y="458.5" width="404" height="345" fill="#0060ff"/>
<path fill="#0020ff" d="M1036.9,500.9 1043.7,491.6 1043.7,457.4 1443.7,457.4 1443.7,761.7 1408.9,761.7 1366.1,760.2 1338.1,757.1 1318,749.3 1319.5,730.7 1307.1,718.3 1288.4,708.9 1257.4,704.3 1226.3,701.2 1179.8,698.1 1148.7,693.4 1134.7,684.1 1130.1,665.5 1123.9,643.7 1111.4,622 1086.6,603.4 1055.5,584.7 1036.9,564.5Z"/>
<path fill="#0000ed" d="M1130.1,457.4 1120.7,472.9 1102.1,488.5 1083.5,497.8 1071.1,507.1 1066.4,528.8 1071.1,550.6 1086.6,563 1108.3,569.2 1133.2,572.3 1164.2,573.9 1182.9,578.5 1204.6,590.9 1207.7,600.3 1195.3,612.7 1184.4,625.1 1184.4,637.5 1195.3,646.8 1213.9,654.6 1238.8,660.8 1269.8,668.6 1304,676.3 1338.1,684.1 1375.4,690.3 1443.7,695.9 1443.7,457.4Z"/>
<path fill="#0000a4" d="M1269.8,457.4 1285.3,479.1 1294.7,500.9 1300.9,522.6 1313.3,541.2 1331.9,553.7 1356.8,558.3 1381.6,566.1 1443.7,583.2 1443.7,457.4Z"/>
<path fill="#0000a4" d="M1165.8,522.6 1173.5,513.3 1189.1,509.6 1204.6,513.3 1213.9,522.6 1210.8,531.9 1195.3,535 1176.6,531.9Z"/>
<path fill="#0000a4" d="M1383.2,648.4 1397.1,643.7 1443.7,642.2 1443.7,656.2 1397.1,654.6Z"/>
</svg>
<svg x="340" y="427.5" width="350" height="64" viewBox="340 427.5 350 64">
<rect x="339" y="426.5" width="353" height="67" fill="#0060ff"/>
<path fill="#0020ff" d="M337.3,397.8 357.7,397.8 350.9,416.8 345.4,435.8 337.3,454.8Z"/>
<path fill="#00a0ff" d="M407.9,397.8 375.3,427.7 356.3,454.8 348.2,482 345.4,503.8 350.9,522.8 693.3,522.8 693.3,397.8Z"/>
<path fill="#00e0fb" d="M549.2,397.8 503,408.7 462.3,419.5 429.7,433.1 405.2,449.4 386.2,468.4 376.7,487.5 375.3,503.8 380.8,522.8 693.3,522.8 693.3,397.8Z"/>
<path fill="#30ffc7" d="M693.3,405.4 638.9,408.7 584.6,414.1 543.8,422.2 508.5,430.4 475.9,441.3 448.7,454.8 429.7,471.2 421.5,487.5 424.2,503.8 432.4,522.8 693.3,522.8Z"/>
<path fill="#63ff94" d="M693.3,429 638.9,426.3 584.6,429 543.8,434.5 508.5,444 486.7,454.8 473.2,468.4 471.8,482 478.6,495.6 492.2,509.2 507.1,522.8 693.3,522.8Z"/>
<path fill="#97ff60" d="M693.3,453.5 638.9,450.8 598.2,452.1 562.8,456.2 538.4,461.6 526.1,469.8 527.5,482 535.7,495.6 543.8,509.2 550.6,522.8 693.3,522.8Z"/>
<path fill="#caff2c" d="M693.3,470.6 666.1,475.2 644.3,482 625.3,492.9 611.7,506.5 599.5,522.8 693.3,522.8Z"/>
</svg>
<svg x="690" y="427.5" width="350" height="64" viewBox="690 427.5 350 64">
<rect x="689" y="426.5" width="353" height="67" fill="#0000ed"/>
<path fill="#0020ff" d="M978,397.8 1002.5,411.4 1024.2,425 1043.3,441.3 1043.3,522.8 687.3,522.8 687.3,397.8Z"/>
<path fill="#0060ff" d="M934.6,397.8 961.7,410 988.9,425 1013.4,439.9 1032.9,454.8 1040,473.9 1043.3,503.8 1043.3,522.8 687.3,522.8 687.3,397.8Z"/>
<path fill="#00a0ff" d="M896.5,397.8 929.1,410 961.7,425 986.2,441.3 1005.2,463 1014.7,484.7 1017.4,509.2 1017.4,522.8 687.3,522.8 687.3,397.8Z"/>
<path fill="#00e0fb" d="M831.3,397.8 866.6,405.9 902,414.1 934.6,426.3 961.7,441.3 983.5,460.3 995.7,482 998.4,503.8 995.7,522.8 687.3,522.8 687.3,397.8Z"/>
<path fill="#30ffc7" d="M687.3,411.4 730.8,412.7 771.5,412.7 812.3,411.9 853,415.4 885.7,422.2 915.5,433.1 942.7,446.7 964.5,463 975.3,482 976.7,501 972.6,522.8 687.3,522.8Z"/>
<path fill="#63ff94" d="M687.3,430.9 730.8,433.1 771.5,432.6 812.3,430.4 853,432.6 885.7,439.9 912.8,452.1 934.6,468.4 942.7,484.7 941.4,501 931.8,514.6 923.7,522.8 687.3,522.8Z"/>
<path fill="#97ff60" d="M687.3,453.5 730.8,456.2 771.5,453.5 812.3,450.8 847.6,453.5 869.3,461.6 881.6,473.9 880.2,487.5 869.3,501 853,511.9 836.7,522.8 687.3,522.8Z"/>
<path fill="#caff2c" d="M687.3,470.6 730.8,471.7 771.5,469.8 804.1,468.4 825.9,471.2 838.1,477.9 839.5,487.5 831.3,498.3 817.7,509.2 798.7,522.8 687.3,522.8Z"/>
<path fill="#feed00" d="M786.5,496.7 790.5,496.7 790.5,498.9 786.5,498.9Z"/>
</svg>
<svg x="640" y="491.5" width="200" height="164" viewBox="640 491.5 200 164">
<rect x="639" y="490.5" width="203" height="167" fill="#caff2c"/>
<path fill="#97ff60" d="M638.4,552.6 671.1,546.8 702.1,536.7 733.2,530.5 764.2,528.2 795.3,524.3 818.6,516.6 834.1,505.7 841.9,495.6 841.9,671.8 638.4,671.8Z"/>
<path fill="#63ff94" d="M638.4,577.4 671.1,572.5 702.1,562.4 733.2,549.2 764.2,543 795.3,538.3 818.6,532.1 841.9,522.5 841.9,671.8 638.4,671.8Z"/>
<path fill="#30ffc7" d="M638.4,599.2 671.1,596.5 702.1,593.4 725.4,586.4 740.9,577.1 756.5,564.7 779.8,555.4 803,550.7 826.3,544.5 841.9,538.3 841.9,671.8 638.4,671.8Z"/>
<path fill="#00e0fb" d="M638.4,620.9 671.1,618.3 702.1,617.5 733.2,618.3 764.2,617.5 787.5,612.8 803,605.1 818.6,592.6 829.4,583.3 841.9,577.9 841.9,671.8 638.4,671.8Z"/>
<path fill="#00a0ff" d="M638.4,642.6 671.1,638.5 702.1,635.3 733.2,635.3 764.2,635.3 795.3,630.7 818.6,622.1 841.9,610.5 841.9,671.8 638.4,671.8Z"/>
<path fill="#0060ff" d="M719.2,656.3 764.2,653.2 795.3,648.5 818.6,642.3 841.9,632.2 841.9,656.3Z"/>
<path fill="#feed00" d="M787.5,497.6 791.4,497.6 791.4,499.5 787.5,499.5Z"/>
</svg>
<svg x="262" y="407.5" width="196" height="166" viewBox="262 407.5 196 166">
<rect x="261" y="406.5" width="199" height="169" fill="#0000a4"/>
<path fill="#0000ed" d="M272.4,403.9 267.8,419.5 258.4,436.6 258.4,576.3 461.9,576.3 461.9,403.9Z"/>
<path fill="#0020ff" d="M308.1,403.9 305,417.9 297.3,433.5 284.8,449 275.5,464.5 270.1,480 268.5,498.7 269.3,514.2 266.2,529.7 258.4,544.5 258.4,576.3 461.9,576.3 461.9,403.9Z"/>
<path fill="#0060ff" d="M356.3,403.9 353.2,417.9 343.9,433.5 328.3,445.9 314.3,459.8 306.6,472.3 303.5,486.2 305,501.8 309.7,517.3 314.3,532.8 322.1,549.9 329.9,565.4 336.4,576.3 461.9,576.3 461.9,403.9Z"/>
<path fill="#00a0ff" d="M407.5,403.9 399.8,417.9 387.3,431.9 371.8,444.3 359.4,456.7 347,469.2 340.7,480 338.4,490.9 340.7,503.3 348.5,517.3 360.9,529.7 374.9,542.1 385.8,554.6 395.1,567 401,576.3 461.9,576.3 461.9,403.9Z"/>
<path fill="#00e0fb" d="M461.9,417.1 446.3,422.6 430.8,433.5 415.3,444.3 399.8,455.2 387.3,466.1 379.6,475.4 375.7,486.2 378,497.1 385.8,508 396.6,520.4 407.5,534.4 416.8,548.4 426.1,562.3 435.2,576.3 461.9,576.3Z"/>
<path fill="#30ffc7" d="M461.9,440 446.3,450.5 433.9,461.4 426.1,470.7 422.3,481.6 423,492.5 427.7,504.9 435.5,518.9 443.2,532.8 449.4,546.8 455.7,554.6 461.9,560Z"/>
</svg>
</g>
<use href="#coast" class="coast"/>
</g>
<rect class="frame" x="78.4" y="132.5" width="1331.1" height="655.8"/>
<rect x="78.4" y="831.2" width="83.8" height="65.3" fill="#0000a4"/><rect x="161.6" y="831.2" width="83.8" height="65.3" fill="#0000ed"/><rect x="244.8" y="831.2" width="83.8" height="65.3" fill="#0020ff"/><rect x="328" y="831.2" width="83.8" height="65.3" fill="#0060ff"/><rect x="411.2" y="831.2" width="83.8" height="65.3" fill="#00a0ff"/><rect x="494.4" y="831.2" width="83.8" height="65.3" fill="#00e0fb"/><rect x="577.6" y="831.2" width="83.8" height="65.3" fill="#30ffc7"/><rect x="660.8" y="831.2" width="83.8" height="65.3" fill="#63ff94"/><rect x="743.9" y="831.2" width="83.8" height="65.3" fill="#97ff60"/><rect x="827.1" y="831.2" width="83.8" height="65.3" fill="#caff2c"/><rect x="910.3" y="831.2" width="83.8" height="65.3" fill="#feed00"/><rect x="993.5" y="831.2" width="83.8" height="65.3" fill="#ffb200"/><rect x="1076.7" y="831.2" width="83.8" height="65.3" fill="#ff7700"/><rect x="1159.9" y="831.2" width="83.8" height="65.3" fill="#ff3b00"/><rect x="1243.1" y="831.2" width="83.8" height="65.3" fill="#e80000"/><rect x="1326.3" y="831.2" width="83.2" height="65.3" fill="#9f0000"/>
<rect class="frame" x="78.4" y="831.2" width="1331.1" height="65.3"/>
<line class="tk" x1="78.4" y1="896.5" x2="78.4" y2="912.7"/><text class="tick" x="78.4" y="959">0</text>
<line class="tk" x1="244.8" y1="896.5" x2="244.8" y2="912.7"/><text class="tick" x="244.8" y="959">5</text>
<line class="tk" x1="411.2" y1="896.5" x2="411.2" y2="912.7"/><text class="tick" x="411.2" y="959">10</text>
<line class="tk" x1="577.6" y1="896.5" x2="577.6" y2="912.7"/><text class="tick" x="577.6" y="959">15</text>
<line class="tk" x1="743.9" y1="896.5" x2="743.9" y2="912.7"/><text class="tick" x="743.9" y="959">20</text>
<line class="tk" x1="910.3" y1="896.5" x2="910.3" y2="912.7"/><text class="tick" x="910.3" y="959">25</text>
<line class="tk" x1="1076.7" y1="896.5" x2="1076.7" y2="912.7"/><text class="tick" x="1076.7" y="959">30</text>
<line class="tk" x1="1243.1" y1="896.5" x2="1243.1" y2="912.7"/><text class="tick" x="1243.1" y="959">35</text>
<line class="tk" x1="1409.5" y1="896.5" x2="1409.5" y2="912.7"/><text class="tick" x="1409.5" y="959">40</text>
</g>
<g transform="translate(0,1969)">
<text class="title" x="744" y="107.5">Plasmasphere (h=1500.0 km), 2008-11-13 15:00 UT</text>
<g clip-path="url(#mapclip)">
<g shape-rendering="crispEdges">
<rect x="0" y="0" width="1500" height="900" fill="#0000df"/>
<svg x="60" y="120" width="341" height="341" viewBox="60 120 341 341">
<rect x="59" y="119" width="344" height="344" fill="#0000df"/>
<path fill="#0080ff" d="M56.9,252.9 78.6,256.6 122.1,264.4 168.7,272.2 215.3,278.4 261.9,287.7 292.9,297 324,306.3 355,314.1 386.1,318.8 417.1,323.4 463.7,326.8 463.7,461.6 56.9,461.6Z"/>
<path fill="#36ffc1" d="M56.9,304.8 78.6,307.9 97.3,312.5 122.1,325 147,342 171.8,359.1 190.4,365.3 209.1,356 227.7,346.7 246.3,343 271.2,343.6 296,348.3 324,354.5 355,359.8 386.1,362.9 417.1,366.9 463.7,372.2 463.7,461.6 56.9,461.6Z"/>
<path fill="#c1ff36" d="M257.2,461.6 258.8,449.2 265,439.9 283.6,438.3 308.4,443 324,443 339.5,436.8 358.1,430.6 376.8,429 395.4,430.6 414,436.8 432.7,444.5 451.3,453.9 463.7,460.4 463.7,461.6Z"/>
<path fill="#0080ff" d="M125.2,461.6 153.2,436.8 170.2,432.1 176.5,443 184.8,461.6Z"/>
</svg>
<svg x="400" y="120" width="341" height="341" viewBox="400 120 341 341">
<rect x="399" y="119" width="344" height="344" fill="#0000df"/>
<path fill="#0080ff" d="M396.9,321.9 446.6,325.6 493.2,327.5 539.8,328.1 586.3,326.5 632.9,320.3 679.5,311 726.1,300.1 772.7,287.7 803.7,280.6 803.7,461.6 396.9,461.6Z"/>
<path fill="#36ffc1" d="M396.9,365.3 446.6,370 493.2,370 539.8,368.4 586.3,365.3 632.9,357.6 679.5,346.7 726.1,334.3 772.7,321.9 803.7,314.7 803.7,461.6 396.9,461.6Z"/>
<path fill="#c1ff36" d="M581.7,461.6 601.9,449.2 614.3,433.7 626.7,415 642.2,399.5 664,387.1 688.8,377.8 716.8,371.6 747.8,366.9 778.9,362.2 803.7,357 803.7,461.6Z"/>
<path fill="#c1ff36" d="M396.9,431.5 418.6,436.8 437.3,446.1 452.8,455.4 460.6,461.6 396.9,461.6Z"/>
<path fill="#ff9400" d="M715.2,461.6 735.4,446.1 757.1,436.8 778.9,430.6 803.7,428.7 803.7,461.6Z"/>
</svg>
<svg x="740" y="120" width="301" height="341" viewBox="740 120 301 341">
<rect x="739" y="119" width="304" height="344" fill="#0000df"/>
<path fill="#0080ff" d="M736.9,297.6 771.1,289.3 802.1,279.9 833.2,270.6 864.2,262.9 895.3,256.6 926.3,252 957.4,248 988.4,245.8 1019.5,243.3 1050.6,241.7 1081.6,240.5 1112.7,238.6 1143.7,237.4 1143.7,461.6 736.9,461.6Z"/>
<path fill="#36ffc1" d="M736.9,328.7 771.1,323.4 802.1,315.7 833.2,306.3 864.2,297 895.3,289.3 926.3,284.6 957.4,281.5 988.4,279 1019.5,277.8 1050.6,276.2 1081.6,275.3 1112.7,273.7 1143.7,272.8 1143.7,461.6 736.9,461.6Z"/>
<path fill="#c1ff36" d="M736.9,369.4 758.6,367.8 780.4,362.2 802.1,351.4 823.9,340.5 845.6,331.2 870.4,323.4 895.3,318.8 926.3,315.7 957.4,315 988.4,316.3 1019.5,318.8 1050.6,321.9 1081.6,326.5 1112.7,331.2 1143.7,336.5 1143.7,461.6 736.9,461.6Z"/>
<path fill="#ff9400" d="M736.9,438.9 771.1,432.1 802.1,429 833.2,427.5 848.7,424.3 864.2,411.9 876.6,393.3 889.1,379.3 904.6,370.9 923.2,368.4 941.9,371.6 963.6,380.9 982.2,391.7 997.8,402.6 1005.5,415 1002.4,427.5 991.6,439.9 976,450.7 958.9,461.6 736.9,461.6Z"/>
</svg>
<svg x="1040" y="120" width="401" height="341" viewBox="1040 120 401 341">
<rect x="1039" y="119" width="404" height="344" fill="#0000df"/>
<path fill="#0080ff" d="M1036.9,242 1086.6,239.6 1133.2,237.4 1179.8,236.8 1226.3,237.4 1272.9,239.6 1319.5,243.3 1366.1,248 1443.7,256.6 1443.7,461.6 1036.9,461.6Z"/>
<path fill="#36ffc1" d="M1036.9,276.8 1086.6,274.3 1133.2,273.7 1179.8,275.3 1226.3,279 1272.9,284 1319.5,289.3 1366.1,295.5 1443.7,306.3 1443.7,461.6 1036.9,461.6Z"/>
<path fill="#c1ff36" d="M1036.9,321.9 1071.1,323.4 1102.1,327.5 1133.2,335.8 1164.2,348.3 1189.1,359.1 1213.9,368.4 1241.9,373.1 1272.9,375.3 1297.8,380.9 1316.4,390.2 1327.3,402.6 1330.4,415 1325.7,430.6 1313.3,441.4 1294.7,446.1 1269.8,446.1 1245,447.6 1232.5,453.9 1224.8,461.6 1036.9,461.6Z"/>
</svg>
<svg x="60" y="460" width="341" height="341" viewBox="60 460 341 341">
<rect x="59" y="459" width="344" height="344" fill="#0080ff"/>
<path fill="#36ffc1" d="M56.9,456.9 126.8,456.9 112.8,475.5 106,494.2 109.7,512.8 117.5,531.4 117.5,547 109.7,557.8 97.3,565.6 56.9,571.2Z"/>
<path fill="#36ffc1" d="M184.2,456.9 188.9,481.7 193.5,506.6 199.8,528.3 212.2,540.7 230.8,548.5 255.7,553.2 283.6,557.8 308.4,567.1 333.3,579.6 358.1,588.9 383,594.2 407.8,596 432.7,596 463.7,594.2 463.7,456.9Z"/>
<path fill="#c1ff36" d="M257.2,456.9 265,472.4 283.6,478.6 302.2,483.3 317.8,494.2 333.3,509.7 348.8,525.2 367.5,537.6 389.2,545.4 410.9,547.6 432.7,546.3 463.7,541.7 463.7,456.9Z"/>
<path fill="#0000df" d="M56.9,613.7 122.1,612.2 168.7,612.2 199.8,614.3 230.8,618.4 277.4,626.1 324,632.4 370.6,637.6 417.1,643.2 463.7,647.3 463.7,801.6 56.9,801.6Z"/>
</svg>
<svg x="400" y="460" width="341" height="341" viewBox="400 460 341 341">
<rect x="399" y="459" width="344" height="344" fill="#c1ff36"/>
<path fill="#36ffc1" d="M471.4,456.9 493.2,462.5 539.8,462.5 561.5,456.9Z"/>
<path fill="#36ffc1" d="M396.9,549.1 431.1,543.9 462.1,539.2 493.2,536.1 524.2,533.9 555.3,532 586.3,530.8 617.4,532 648.4,537 679.5,543.9 710.6,550.1 741.6,553.2 772.7,552.5 803.7,550.1 803.7,801.6 396.9,801.6Z"/>
<path fill="#0080ff" d="M396.9,596.6 431.1,596 462.1,593.5 493.2,588.9 524.2,583.6 555.3,578.6 586.3,576.5 617.4,576.5 648.4,578.6 679.5,581.7 710.6,583.6 741.6,582.7 772.7,580.5 803.7,577.1 803.7,801.6 396.9,801.6Z"/>
<path fill="#0000df" d="M396.9,643.2 431.1,645.7 462.1,647 493.2,644.8 524.2,638.6 555.3,630.2 586.3,623.7 617.4,621.5 648.4,623 679.5,625.2 710.6,624.6 741.6,621.5 772.7,616.8 803.7,611.6 803.7,801.6 396.9,801.6Z"/>
<path fill="#ff9400" d="M713.7,456.9 709,472.4 709,488 716.8,503.5 732.3,515.9 750.9,523.7 772.7,526.8 791.3,525.2 803.7,522.1 803.7,456.9Z"/>
</svg>
<svg x="740" y="460" width="301" height="341" viewBox="740 460 301 341">
<rect x="739" y="459" width="304" height="344" fill="#c1ff36"/>
<path fill="#ff9400" d="M736.9,521.5 758.6,525.8 780.4,525.8 802.1,520.6 823.9,511.2 845.6,498.8 864.2,486.4 886,475.5 910.8,469.3 935.7,464.7 960.5,456.9 736.9,456.9Z"/>
<path fill="#36ffc1" d="M736.9,554.7 771.1,551.6 802.1,545.4 833.2,537.6 864.2,531.4 895.3,525.8 926.3,519 957.4,511.2 988.4,505 1019.5,501 1050.6,500.4 1081.6,501.9 1112.7,504.1 1143.7,506.9 1143.7,801.6 736.9,801.6Z"/>
<path fill="#0080ff" d="M736.9,582.7 771.1,578 802.1,573.4 833.2,568.7 858,567.1 882.9,568.7 907.7,571.2 932.5,570.2 957.4,565.6 988.4,559.4 1013.3,555.7 1038.1,554.7 1066.1,554.7 1097.1,556.3 1143.7,559.7 1143.7,801.6 736.9,801.6Z"/>
<path fill="#0000df" d="M736.9,623.7 771.1,616.8 802.1,612.2 827,611.2 851.8,613.7 876.6,617.8 901.5,619 926.3,616.8 957.4,609.7 988.4,601.3 1019.5,595.1 1050.6,590.4 1081.6,588 1112.7,586.7 1143.7,585.8 1143.7,801.6 736.9,801.6Z"/>
</svg>
<svg x="1040" y="460" width="401" height="341" viewBox="1040 460 401 341">
<rect x="1039" y="459" width="404" height="344" fill="#36ffc1"/>
<path fill="#c1ff36" d="M1036.9,500.4 1071.1,501 1102.1,503.5 1133.2,507.2 1164.2,509.7 1186,508.1 1201.5,500.4 1209.3,491.1 1212.4,478.6 1213.9,456.9 1036.9,456.9Z"/>
<path fill="#0080ff" d="M1036.9,555.7 1086.6,555.7 1133.2,556.9 1179.8,558.8 1226.3,560.9 1272.9,563.1 1319.5,565.6 1366.1,568.7 1443.7,574.3 1443.7,801.6 1036.9,801.6Z"/>
<path fill="#0000df" d="M1036.9,592.9 1071.1,588.9 1102.1,586.7 1139.4,586.4 1176.6,588 1213.9,592 1251.2,597.3 1288.4,602.2 1325.7,606.6 1366.1,610.6 1443.7,616.8 1443.7,801.6 1036.9,801.6Z"/>
</svg>
</g>
<use href="#coast" class="coast"/>
</g>
<rect class="frame" x="78.4" y="132.5" width="1331.1" height="655.8"/>
<rect x="78.4" y="831.2" width="222.4" height="65.3" fill="#0000df"/><rect x="300.2" y="831.2" width="222.4" height="65.3" fill="#0080ff"/><rect x="522.1" y="831.2" width="222.4" height="65.3" fill="#36ffc1"/><rect x="743.9" y="831.2" width="222.4" height="65.3" fill="#c1ff36"/><rect x="965.8" y="831.2" width="222.4" height="65.3" fill="#ff9400"/><rect x="1187.7" y="831.2" width="221.8" height="65.3" fill="#df0000"/>
<rect class="frame" x="78.4" y="831.2" width="1331.1" height="65.3"/>
<line class="tk" x1="78.4" y1="896.5" x2="78.4" y2="912.7"/><text class="tick" x="78.4" y="959">0.0</text>
<line class="tk" x1="300.2" y1="896.5" x2="300.2" y2="912.7"/><text class="tick" x="300.2" y="959">2.5</text>
<line class="tk" x1="522.1" y1="896.5" x2="522.1" y2="912.7"/><text class="tick" x="522.1" y="959">5.0</text>
<line class="tk" x1="743.9" y1="896.5" x2="743.9" y2="912.7"/><text class="tick" x="743.9" y="959">7.5</text>
<line class="tk" x1="965.8" y1="896.5" x2="965.8" y2="912.7"/><text class="tick" x="965.8" y="959">10.0</text>
<line class="tk" x1="1187.7" y1="896.5" x2="1187.7" y2="912.7"/><text class="tick" x="1187.7" y="959">12.5</text>
<line class="tk" x1="1409.5" y1="896.5" x2="1409.5" y2="912.7"/><text class="tick" x="1409.5" y="959">15.0</text>
</g>
</svg>
</body>
</html>
